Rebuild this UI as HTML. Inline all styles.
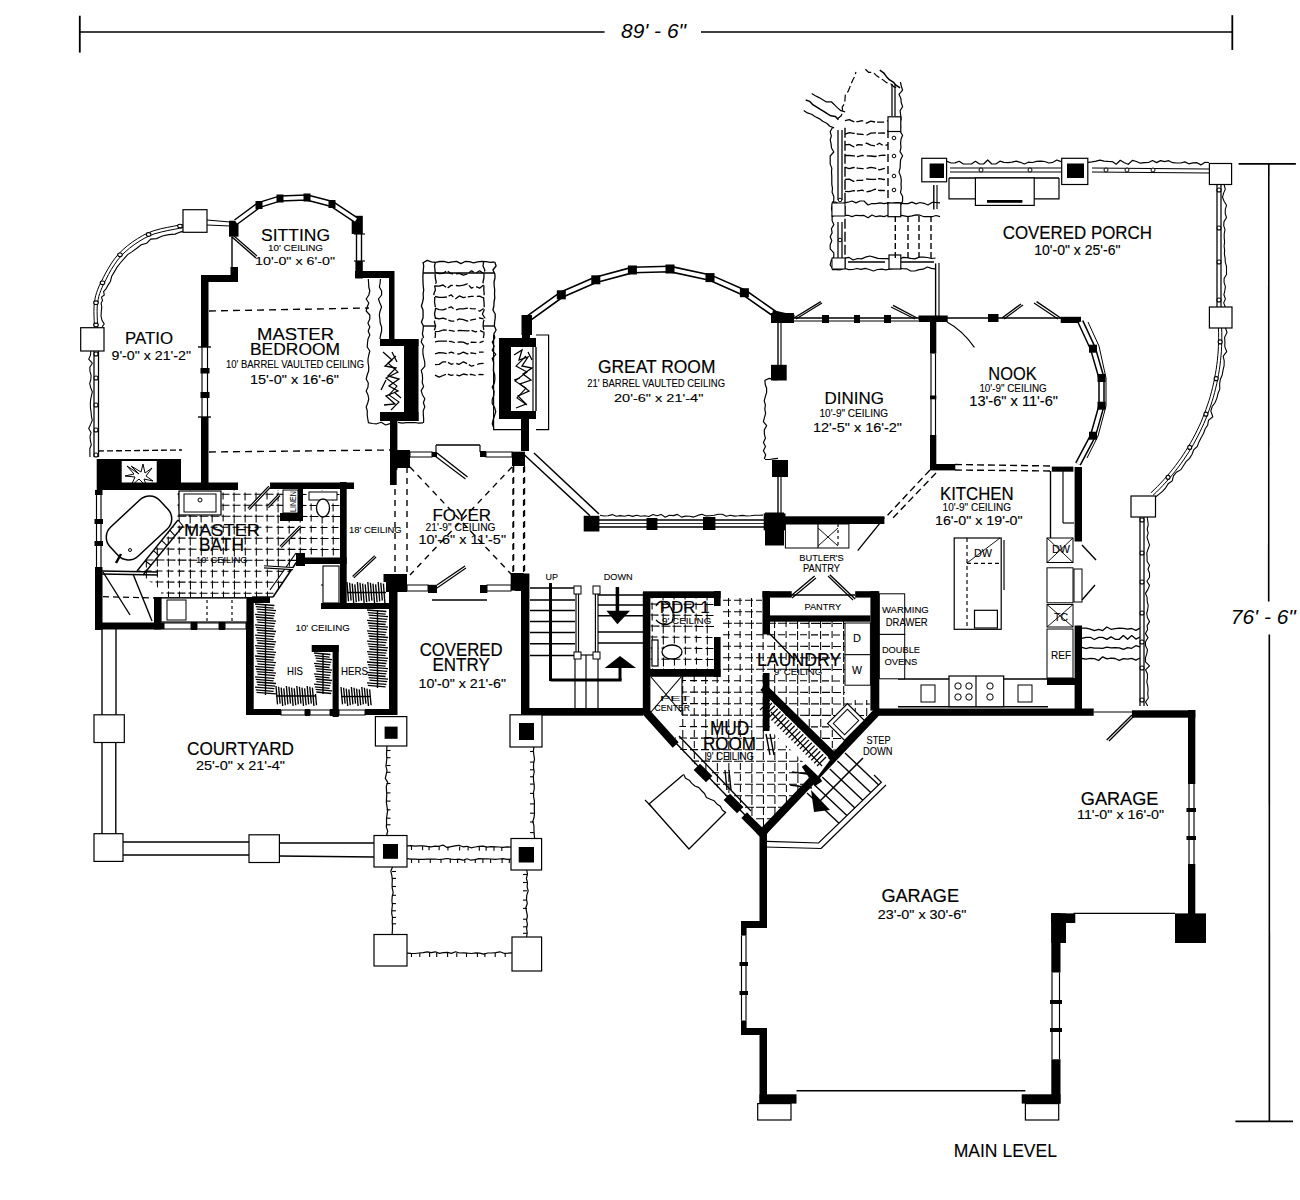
<!DOCTYPE html>
<html><head><meta charset="utf-8"><style>
html,body{margin:0;padding:0;background:#fff;}
svg{display:block;}
text{font-family:"Liberation Sans",sans-serif;fill:#000;}
</style></head><body>
<svg width="1300" height="1200" viewBox="0 0 1300 1200">
<rect width="1300" height="1200" fill="#fff"/>
<line x1="80.0" y1="32.0" x2="604.6" y2="32.0" stroke="#000" stroke-width="1.6" />
<line x1="701.0" y1="32.0" x2="1232.3" y2="32.0" stroke="#000" stroke-width="1.6" />
<line x1="79.8" y1="15.7" x2="79.8" y2="52.6" stroke="#000" stroke-width="1.8" />
<line x1="1232.3" y1="15.2" x2="1232.3" y2="49.9" stroke="#000" stroke-width="1.8" />
<text x="621.0" y="37.7" font-size="19.57" stroke="#000" stroke-width="0.00" textLength="65.0" lengthAdjust="spacingAndGlyphs" font-weight="normal" font-style="italic">89' - 6"</text>
<line x1="1238.6" y1="163.8" x2="1295.9" y2="163.8" stroke="#000" stroke-width="1.7" />
<line x1="1268.8" y1="163.8" x2="1268.7" y2="601.5" stroke="#000" stroke-width="1.6" />
<line x1="1269.3" y1="634.6" x2="1269.4" y2="1121.3" stroke="#000" stroke-width="1.6" />
<line x1="1235.4" y1="1121.3" x2="1293.0" y2="1121.3" stroke="#000" stroke-width="1.8" />
<text x="1230.8" y="623.8" font-size="20.29" stroke="#000" stroke-width="0.00" textLength="65.0" lengthAdjust="spacingAndGlyphs" font-weight="normal" font-style="italic">76' - 6"</text>
<text x="953.7" y="1156.5" font-size="18.86" stroke="#000" stroke-width="0.10" textLength="103.3" lengthAdjust="spacingAndGlyphs" font-weight="normal" font-style="normal">MAIN LEVEL</text>
<clipPath id="tc1"><polygon points="176.0,490.0 340.0,490.0 340.0,557.0 300.0,557.0 273.0,597.0 161.0,597.0 161.0,590.0 137.0,572.0 177.0,522.0"/></clipPath>
<g clip-path="url(#tc1)" stroke="#000" stroke-width="1.05">
<line x1="125" y1="494.0" x2="342" y2="494.5" stroke-dasharray="8,3" stroke-dashoffset="2.5"/>
<line x1="125" y1="505.0" x2="342" y2="505.5" stroke-dasharray="8,3" stroke-dashoffset="2.5"/>
<line x1="125" y1="516.0" x2="342" y2="516.5" stroke-dasharray="9,2" stroke-dashoffset="2.5"/>
<line x1="125" y1="527.0" x2="342" y2="527.5" stroke-dasharray="7,4" stroke-dashoffset="2.5"/>
<line x1="125" y1="538.0" x2="342" y2="538.5" stroke-dasharray="8,3" stroke-dashoffset="2.5"/>
<line x1="125" y1="549.0" x2="342" y2="549.5" stroke-dasharray="8,3" stroke-dashoffset="2.5"/>
<line x1="125" y1="560.0" x2="342" y2="560.5" stroke-dasharray="9,2" stroke-dashoffset="2.5"/>
<line x1="125" y1="571.0" x2="342" y2="571.5" stroke-dasharray="7,4" stroke-dashoffset="2.5"/>
<line x1="125" y1="582.0" x2="342" y2="582.5" stroke-dasharray="8,3" stroke-dashoffset="2.5"/>
<line x1="125" y1="593.0" x2="342" y2="593.5" stroke-dasharray="8,3" stroke-dashoffset="2.5"/>
<line x1="135.0" y1="483" x2="135.5" y2="600" stroke-dasharray="7,4" stroke-dashoffset="1.5"/>
<line x1="146.0" y1="483" x2="146.5" y2="600" stroke-dasharray="9,2" stroke-dashoffset="1.5"/>
<line x1="157.0" y1="483" x2="157.5" y2="600" stroke-dasharray="8,3" stroke-dashoffset="1.5"/>
<line x1="168.0" y1="483" x2="168.5" y2="600" stroke-dasharray="8,3" stroke-dashoffset="1.5"/>
<line x1="179.0" y1="483" x2="179.5" y2="600" stroke-dasharray="7,4" stroke-dashoffset="1.5"/>
<line x1="190.0" y1="483" x2="190.5" y2="600" stroke-dasharray="9,2" stroke-dashoffset="1.5"/>
<line x1="201.0" y1="483" x2="201.5" y2="600" stroke-dasharray="8,3" stroke-dashoffset="1.5"/>
<line x1="212.0" y1="483" x2="212.5" y2="600" stroke-dasharray="8,3" stroke-dashoffset="1.5"/>
<line x1="223.0" y1="483" x2="223.5" y2="600" stroke-dasharray="7,4" stroke-dashoffset="1.5"/>
<line x1="234.0" y1="483" x2="234.5" y2="600" stroke-dasharray="9,2" stroke-dashoffset="1.5"/>
<line x1="245.0" y1="483" x2="245.5" y2="600" stroke-dasharray="8,3" stroke-dashoffset="1.5"/>
<line x1="256.0" y1="483" x2="256.5" y2="600" stroke-dasharray="8,3" stroke-dashoffset="1.5"/>
<line x1="267.0" y1="483" x2="267.5" y2="600" stroke-dasharray="7,4" stroke-dashoffset="1.5"/>
<line x1="278.0" y1="483" x2="278.5" y2="600" stroke-dasharray="9,2" stroke-dashoffset="1.5"/>
<line x1="289.0" y1="483" x2="289.5" y2="600" stroke-dasharray="8,3" stroke-dashoffset="1.5"/>
<line x1="300.0" y1="483" x2="300.5" y2="600" stroke-dasharray="8,3" stroke-dashoffset="1.5"/>
<line x1="311.0" y1="483" x2="311.5" y2="600" stroke-dasharray="7,4" stroke-dashoffset="1.5"/>
<line x1="322.0" y1="483" x2="322.5" y2="600" stroke-dasharray="9,2" stroke-dashoffset="1.5"/>
<line x1="333.0" y1="483" x2="333.5" y2="600" stroke-dasharray="8,3" stroke-dashoffset="1.5"/>
</g>
<clipPath id="tc2"><polygon points="650.0,598.0 714.0,598.0 714.0,669.0 650.0,669.0"/></clipPath>
<g clip-path="url(#tc2)" stroke="#000" stroke-width="1.05">
<line x1="643" y1="604.0" x2="716" y2="604.5" stroke-dasharray="8,3" stroke-dashoffset="3.5"/>
<line x1="643" y1="615.0" x2="716" y2="615.5" stroke-dasharray="8,3" stroke-dashoffset="3.5"/>
<line x1="643" y1="626.0" x2="716" y2="626.5" stroke-dasharray="9,2" stroke-dashoffset="3.5"/>
<line x1="643" y1="637.0" x2="716" y2="637.5" stroke-dasharray="7,4" stroke-dashoffset="3.5"/>
<line x1="643" y1="648.0" x2="716" y2="648.5" stroke-dasharray="8,3" stroke-dashoffset="3.5"/>
<line x1="643" y1="659.0" x2="716" y2="659.5" stroke-dasharray="8,3" stroke-dashoffset="3.5"/>
<line x1="643" y1="670.0" x2="716" y2="670.5" stroke-dasharray="9,2" stroke-dashoffset="3.5"/>
<line x1="652.0" y1="591" x2="652.5" y2="672" stroke-dasharray="7,4" stroke-dashoffset="10.5"/>
<line x1="663.0" y1="591" x2="663.5" y2="672" stroke-dasharray="9,2" stroke-dashoffset="10.5"/>
<line x1="674.0" y1="591" x2="674.5" y2="672" stroke-dasharray="8,3" stroke-dashoffset="10.5"/>
<line x1="685.0" y1="591" x2="685.5" y2="672" stroke-dasharray="8,3" stroke-dashoffset="10.5"/>
<line x1="696.0" y1="591" x2="696.5" y2="672" stroke-dasharray="7,4" stroke-dashoffset="10.5"/>
<line x1="707.0" y1="591" x2="707.5" y2="672" stroke-dasharray="9,2" stroke-dashoffset="10.5"/>
</g>
<clipPath id="tc3"><polygon points="650.0,676.0 721.0,676.0 721.0,598.0 762.0,598.0 762.0,634.0 770.0,634.0 770.0,621.0 845.0,621.0 845.0,700.0 870.0,700.0 870.0,712.0 762.0,833.0 673.0,742.0 682.0,720.0 682.0,676.0"/></clipPath>
<g clip-path="url(#tc3)" stroke="#000" stroke-width="1.05">
<line x1="640" y1="600.0" x2="880" y2="600.5" stroke-dasharray="8,3" stroke-dashoffset="5.0"/>
<line x1="640" y1="611.5" x2="880" y2="612.0" stroke-dasharray="8,3" stroke-dashoffset="5.0"/>
<line x1="640" y1="623.0" x2="880" y2="623.5" stroke-dasharray="9,2" stroke-dashoffset="5.0"/>
<line x1="640" y1="634.5" x2="880" y2="635.0" stroke-dasharray="7,4" stroke-dashoffset="5.0"/>
<line x1="640" y1="646.0" x2="880" y2="646.5" stroke-dasharray="8,3" stroke-dashoffset="5.0"/>
<line x1="640" y1="657.5" x2="880" y2="658.0" stroke-dasharray="8,3" stroke-dashoffset="5.0"/>
<line x1="640" y1="669.0" x2="880" y2="669.5" stroke-dasharray="9,2" stroke-dashoffset="5.0"/>
<line x1="640" y1="680.5" x2="880" y2="681.0" stroke-dasharray="7,4" stroke-dashoffset="5.0"/>
<line x1="640" y1="692.0" x2="880" y2="692.5" stroke-dasharray="8,3" stroke-dashoffset="5.0"/>
<line x1="640" y1="703.5" x2="880" y2="704.0" stroke-dasharray="8,3" stroke-dashoffset="5.0"/>
<line x1="640" y1="715.0" x2="880" y2="715.5" stroke-dasharray="9,2" stroke-dashoffset="5.0"/>
<line x1="640" y1="726.5" x2="880" y2="727.0" stroke-dasharray="7,4" stroke-dashoffset="5.0"/>
<line x1="640" y1="738.0" x2="880" y2="738.5" stroke-dasharray="8,3" stroke-dashoffset="5.0"/>
<line x1="640" y1="749.5" x2="880" y2="750.0" stroke-dasharray="8,3" stroke-dashoffset="5.0"/>
<line x1="640" y1="761.0" x2="880" y2="761.5" stroke-dasharray="9,2" stroke-dashoffset="5.0"/>
<line x1="640" y1="772.5" x2="880" y2="773.0" stroke-dasharray="7,4" stroke-dashoffset="5.0"/>
<line x1="640" y1="784.0" x2="880" y2="784.5" stroke-dasharray="8,3" stroke-dashoffset="5.0"/>
<line x1="640" y1="795.5" x2="880" y2="796.0" stroke-dasharray="8,3" stroke-dashoffset="5.0"/>
<line x1="640" y1="807.0" x2="880" y2="807.5" stroke-dasharray="9,2" stroke-dashoffset="5.0"/>
<line x1="640" y1="818.5" x2="880" y2="819.0" stroke-dasharray="7,4" stroke-dashoffset="5.0"/>
<line x1="640" y1="830.0" x2="880" y2="830.5" stroke-dasharray="8,3" stroke-dashoffset="5.0"/>
<line x1="648.0" y1="591" x2="648.5" y2="840" stroke-dasharray="7,4" stroke-dashoffset="4.0"/>
<line x1="659.5" y1="591" x2="660.0" y2="840" stroke-dasharray="9,2" stroke-dashoffset="4.0"/>
<line x1="671.0" y1="591" x2="671.5" y2="840" stroke-dasharray="8,3" stroke-dashoffset="4.0"/>
<line x1="682.5" y1="591" x2="683.0" y2="840" stroke-dasharray="8,3" stroke-dashoffset="4.0"/>
<line x1="694.0" y1="591" x2="694.5" y2="840" stroke-dasharray="7,4" stroke-dashoffset="4.0"/>
<line x1="705.5" y1="591" x2="706.0" y2="840" stroke-dasharray="9,2" stroke-dashoffset="4.0"/>
<line x1="717.0" y1="591" x2="717.5" y2="840" stroke-dasharray="8,3" stroke-dashoffset="4.0"/>
<line x1="728.5" y1="591" x2="729.0" y2="840" stroke-dasharray="8,3" stroke-dashoffset="4.0"/>
<line x1="740.0" y1="591" x2="740.5" y2="840" stroke-dasharray="7,4" stroke-dashoffset="4.0"/>
<line x1="751.5" y1="591" x2="752.0" y2="840" stroke-dasharray="9,2" stroke-dashoffset="4.0"/>
<line x1="763.0" y1="591" x2="763.5" y2="840" stroke-dasharray="8,3" stroke-dashoffset="4.0"/>
<line x1="774.5" y1="591" x2="775.0" y2="840" stroke-dasharray="8,3" stroke-dashoffset="4.0"/>
<line x1="786.0" y1="591" x2="786.5" y2="840" stroke-dasharray="7,4" stroke-dashoffset="4.0"/>
<line x1="797.5" y1="591" x2="798.0" y2="840" stroke-dasharray="9,2" stroke-dashoffset="4.0"/>
<line x1="809.0" y1="591" x2="809.5" y2="840" stroke-dasharray="8,3" stroke-dashoffset="4.0"/>
<line x1="820.5" y1="591" x2="821.0" y2="840" stroke-dasharray="8,3" stroke-dashoffset="4.0"/>
<line x1="832.0" y1="591" x2="832.5" y2="840" stroke-dasharray="7,4" stroke-dashoffset="4.0"/>
<line x1="843.5" y1="591" x2="844.0" y2="840" stroke-dasharray="9,2" stroke-dashoffset="4.0"/>
<line x1="855.0" y1="591" x2="855.5" y2="840" stroke-dasharray="8,3" stroke-dashoffset="4.0"/>
<line x1="866.5" y1="591" x2="867.0" y2="840" stroke-dasharray="8,3" stroke-dashoffset="4.0"/>
<line x1="878.0" y1="591" x2="878.5" y2="840" stroke-dasharray="7,4" stroke-dashoffset="4.0"/>
</g>
<rect x="201.0" y="275.0" width="7.5" height="215.0" fill="#000"/>
<rect x="200.5" y="347.0" width="8.5" height="70.0" fill="#fff"/>
<line x1="202.0" y1="347.0" x2="202.0" y2="417.0" stroke="#000" stroke-width="1.15" />
<line x1="207.5" y1="347.0" x2="207.5" y2="417.0" stroke="#000" stroke-width="1.15" />
<line x1="198.0" y1="347.0" x2="211.0" y2="347.0" stroke="#000" stroke-width="1.38" />
<line x1="198.0" y1="417.0" x2="211.0" y2="417.0" stroke="#000" stroke-width="1.38" />
<rect x="200.5" y="368.0" width="9.0" height="5.5" fill="#000"/>
<rect x="200.5" y="392.0" width="9.0" height="6.0" fill="#000"/>
<rect x="201.0" y="275.0" width="36.0" height="7.0" fill="#000"/>
<rect x="230.5" y="267.0" width="7.5" height="15.0" fill="#000"/>
<rect x="229.0" y="220.7" width="9.5" height="16.0" fill="#000"/>
<line x1="232.0" y1="237.0" x2="232.0" y2="268.0" stroke="#000" stroke-width="1.38" />
<line x1="232.0" y1="237.0" x2="256.0" y2="258.0" stroke="#000" stroke-width="1.38" />
<line x1="234.0" y1="236.0" x2="257.0" y2="256.0" stroke="#000" stroke-width="1.15" />
<rect x="351.7" y="215.8" width="11.1" height="18.2" fill="#000"/>
<rect x="355.4" y="234.0" width="7.4" height="44.5" fill="#000"/>
<rect x="354.5" y="234.0" width="9.5" height="27.0" fill="#fff"/>
<line x1="356.5" y1="234.0" x2="356.5" y2="261.0" stroke="#000" stroke-width="1.38" />
<line x1="361.5" y1="234.0" x2="361.5" y2="261.0" stroke="#000" stroke-width="1.38" />
<line x1="354.0" y1="234.0" x2="365.0" y2="234.0" stroke="#000" stroke-width="1.15" />
<line x1="354.0" y1="261.0" x2="365.0" y2="261.0" stroke="#000" stroke-width="1.15" />
<rect x="355.0" y="271.0" width="38.0" height="7.0" fill="#000"/>
<rect x="389.0" y="271.0" width="5.5" height="69.0" fill="#000"/>
<rect x="380.0" y="339.0" width="38.5" height="7.0" fill="#000"/>
<rect x="404.0" y="339.0" width="14.5" height="82.0" fill="#000"/>
<rect x="380.0" y="412.0" width="38.5" height="9.0" fill="#000"/>
<rect x="390.0" y="421.0" width="7.4" height="49.0" fill="#000"/>
<polyline points="368.3,279.0 368.6,283.0 368.8,287.0 369.8,291.0 368.8,295.0 366.2,299.0 368.8,303.0 367.2,307.0 366.2,311.0 369.8,315.0 369.8,319.0 367.9,323.0 369.8,327.0 368.2,331.0 369.8,335.0 368.0,339.0 367.5,343.0 367.2,347.0 369.8,351.0 368.8,355.0 368.0,359.0 368.1,363.0 368.8,367.0 368.6,371.0 367.2,375.0 366.2,379.0 368.3,383.0 368.0,387.0 366.2,391.0 368.0,395.0 368.8,399.0 367.7,403.0 366.2,407.0 367.3,411.0 367.2,415.0 367.8,419.0 368.5,423.0" fill="none" stroke="#000" stroke-width="1.2" stroke-linejoin="round"/>
<polyline points="368.0,422.6 372.4,423.5 376.8,423.8 381.2,422.3 385.6,425.0 390.0,423.7" fill="none" stroke="#000" stroke-width="1.2" stroke-linejoin="round"/>
<polyline points="380.4,279.0 380.1,283.0 379.4,287.0 381.6,291.0 381.6,295.0 378.4,299.0 379.9,303.0 381.6,307.0 380.1,311.0 379.3,315.0 379.9,319.0 380.2,323.0 381.6,327.0 381.6,331.0 380.6,335.0 379.9,339.0" fill="none" stroke="#000" stroke-width="1.2" stroke-linejoin="round"/>
<line x1="209.0" y1="311.0" x2="369.0" y2="308.0" stroke="#000" stroke-width="1.38" stroke-dasharray="7,5"/>
<line x1="209.0" y1="452.0" x2="390.0" y2="450.0" stroke="#000" stroke-width="1.38" stroke-dasharray="7,5"/>
<polyline points="236.0,222.0 259.0,205.0 280.0,198.5 307.0,197.5 332.0,204.0 356.0,220.0" fill="none" stroke="#000" stroke-width="6.5" stroke-linejoin="round"/>
<polyline points="236.0,222.0 259.0,205.0 280.0,198.5 307.0,197.5 332.0,204.0 356.0,220.0" fill="none" stroke="#fff" stroke-width="3.5" stroke-linejoin="round"/>
<rect x="255.5" y="201.0" width="7" height="8" fill="#000"/>
<rect x="276.5" y="194.5" width="7" height="8" fill="#000"/>
<rect x="303.5" y="193.5" width="7" height="8" fill="#000"/>
<rect x="328.5" y="200.0" width="7" height="8" fill="#000"/>
<polyline points="183.3,227.6 179.5,228.3 174.2,229.3 167.9,230.5 161.3,232.0 154.9,233.7 149.2,235.9 144.1,238.4 139.1,241.4 134.2,244.7 129.5,248.2 125.1,252.0 121.2,255.9 117.6,260.1 114.3,264.8 111.2,269.6 108.5,274.5 106.1,279.2 103.9,283.5 102.2,287.2 100.8,290.5 99.7,293.5 98.8,296.4 98.2,299.5 97.6,302.9 97.2,306.9 97.1,311.4 97.2,316.1 97.4,320.5 97.5,324.2 97.6,327.0" fill="none" stroke="#000" stroke-width="1" stroke-linejoin="miter" />
<polyline points="182.7,224.4 178.9,225.2 173.6,226.2 167.3,227.4 160.5,228.8 153.9,230.7 148.0,232.9 142.6,235.6 137.4,238.7 132.3,242.1 127.5,245.7 123.0,249.6 118.8,253.7 115.1,258.1 111.6,263.0 108.5,268.0 105.7,273.0 103.2,277.8 101.1,282.1 99.2,285.9 97.8,289.3 96.6,292.5 95.7,295.6 95.0,298.9 94.4,302.5 94.0,306.7 93.9,311.4 94.0,316.1 94.2,320.6 94.3,324.4 94.4,327.0" fill="none" stroke="#000" stroke-width="1" stroke-linejoin="miter" />
<polyline points="184.0,231.1 180.2,232.1 175.1,234.1 168.7,234.6 162.3,236.0 156.5,238.6 150.7,239.1 146.7,243.2 141.2,244.7 136.8,248.3 132.2,251.6 127.6,254.6 124.1,258.7 120.7,262.5 117.3,266.8 114.5,271.6 111.7,276.3 110.4,281.5 107.9,285.4 106.0,288.9 103.6,291.6 104.3,295.0 101.5,297.1 102.5,300.4 101.1,303.3 101.8,307.1 101.3,311.4 101.0,316.0 102.0,320.3 104.2,324.0 102.1,326.8" fill="none" stroke="#000" stroke-width="1.1" stroke-linejoin="miter" />
<ellipse cx="180" cy="226" rx="2.3" ry="1.8" fill="#fff" stroke="#000" stroke-width="1.1"/>
<ellipse cx="148.6" cy="234.4" rx="2.3" ry="1.8" fill="#fff" stroke="#000" stroke-width="1.1"/>
<ellipse cx="120" cy="254.8" rx="2.3" ry="1.8" fill="#fff" stroke="#000" stroke-width="1.1"/>
<ellipse cx="102.5" cy="282.8" rx="2.3" ry="1.8" fill="#fff" stroke="#000" stroke-width="1.1"/>
<ellipse cx="96" cy="302.7" rx="2.3" ry="1.8" fill="#fff" stroke="#000" stroke-width="1.1"/>
<ellipse cx="96" cy="324.9" rx="2.3" ry="1.8" fill="#fff" stroke="#000" stroke-width="1.1"/>
<rect x="183.0" y="209.7" width="24.0" height="22.6" fill="#fff" stroke="#000" stroke-width="1.2"/>
<line x1="207.0" y1="220.0" x2="230.0" y2="222.0" stroke="#000" stroke-width="1.15" />
<line x1="207.0" y1="225.0" x2="230.0" y2="226.0" stroke="#000" stroke-width="1.15" />
<rect x="80.7" y="327.7" width="23.3" height="23.3" fill="#fff" stroke="#000" stroke-width="1.2"/>
<line x1="94.0" y1="351.0" x2="94.0" y2="457.0" stroke="#000" stroke-width="1.265" />
<line x1="98.5" y1="351.0" x2="98.5" y2="457.0" stroke="#000" stroke-width="1.265" />
<polyline points="90.8,351.0 90.5,355.1 88.7,359.2 92.3,363.2 89.8,367.3 90.0,371.4 91.1,375.5 90.8,379.5 89.7,383.6 90.7,387.7 92.3,391.8 91.4,395.8 90.6,399.9 90.3,404.0 90.5,408.1 91.1,412.2 91.4,416.2 92.3,420.3 90.6,424.4 88.7,428.5 91.0,432.5 90.0,436.6 90.4,440.7 91.3,444.8 89.8,448.8 89.9,452.9 89.9,457.0" fill="none" stroke="#000" stroke-width="1.1" stroke-linejoin="round"/>
<ellipse cx="96" cy="354" rx="2" ry="2" fill="#fff" stroke="#000" stroke-width="1.1"/>
<ellipse cx="96" cy="378" rx="2" ry="2" fill="#fff" stroke="#000" stroke-width="1.1"/>
<ellipse cx="96" cy="405" rx="2" ry="2" fill="#fff" stroke="#000" stroke-width="1.1"/>
<ellipse cx="96" cy="430" rx="2" ry="2" fill="#fff" stroke="#000" stroke-width="1.1"/>
<ellipse cx="96" cy="455" rx="2" ry="2" fill="#fff" stroke="#000" stroke-width="1.1"/>
<line x1="98.0" y1="451.0" x2="182.0" y2="450.0" stroke="#000" stroke-width="1.38" stroke-dasharray="6,3"/>
<rect x="96.7" y="459.0" width="84.3" height="31.0" fill="#000"/>
<rect x="121.7" y="461.0" width="35.0" height="27.0" fill="#fff"/>
<path d="M127,466 L139,474 L131,466 L141,472 L143,464 L145,473 L152,468 L146,476 L153,481 L144,479 L147,487 L139,479 L131,486 L135,477 L125,476 L134,474 Z" fill="none" stroke="#000" stroke-width="1"/>
<rect x="97.0" y="482.5" width="141.0" height="7.5" fill="#000"/>
<rect x="270.0" y="482.5" width="84.0" height="6.5" fill="#000"/>
<rect x="95.0" y="490.0" width="7.5" height="140.0" fill="#000"/>
<rect x="94.5" y="495.0" width="8.5" height="72.0" fill="#fff"/>
<line x1="96.5" y1="495.0" x2="96.5" y2="567.0" stroke="#000" stroke-width="1.15" />
<line x1="101.0" y1="495.0" x2="101.0" y2="567.0" stroke="#000" stroke-width="1.15" />
<rect x="94.5" y="519.0" width="8.5" height="5.0" fill="#000"/>
<rect x="94.5" y="541.0" width="8.5" height="5.0" fill="#000"/>
<rect x="95.0" y="622.5" width="69.0" height="7.0" fill="#000"/>
<rect x="154.0" y="597.0" width="7.0" height="32.5" fill="#000"/>
<line x1="161.0" y1="598.0" x2="247.0" y2="598.0" stroke="#000" stroke-width="1.38" />
<rect x="164.0" y="623.0" width="27.0" height="6.0" fill="#fff" stroke="#000" stroke-width="1"/>
<rect x="191.0" y="622.0" width="6.0" height="8.0" fill="#000"/>
<rect x="197.0" y="623.0" width="22.0" height="6.0" fill="#fff" stroke="#000" stroke-width="1"/>
<rect x="219.0" y="622.0" width="6.0" height="8.0" fill="#000"/>
<rect x="225.0" y="623.0" width="21.0" height="6.0" fill="#fff" stroke="#000" stroke-width="1"/>
<rect x="298.0" y="489.0" width="5.0" height="32.0" fill="#000"/>
<rect x="280.0" y="513.0" width="23.0" height="8.0" fill="#000"/>
<rect x="340.0" y="482.0" width="6.7" height="123.0" fill="#000"/>
<rect x="297.0" y="557.5" width="49.7" height="6.5" fill="#000"/>
<rect x="296.0" y="553.0" width="9.0" height="13.0" fill="#000"/>
<rect x="321.0" y="603.0" width="68.0" height="6.0" fill="#000"/>
<rect x="246.0" y="597.0" width="7.7" height="118.0" fill="#000"/>
<rect x="246.0" y="709.0" width="35.0" height="6.0" fill="#000"/>
<rect x="281.0" y="710.0" width="24.0" height="5.0" fill="#fff" stroke="#000" stroke-width="1"/>
<rect x="305.0" y="709.0" width="5.0" height="7.0" fill="#000"/>
<rect x="310.0" y="710.0" width="20.0" height="5.0" fill="#fff" stroke="#000" stroke-width="1"/>
<rect x="330.0" y="709.0" width="9.0" height="7.0" fill="#000"/>
<rect x="339.0" y="710.0" width="26.0" height="5.0" fill="#fff" stroke="#000" stroke-width="1"/>
<rect x="365.0" y="709.0" width="31.5" height="6.0" fill="#000"/>
<rect x="389.0" y="575.0" width="7.5" height="140.0" fill="#000"/>
<rect x="332.6" y="645.0" width="6.1" height="72.0" fill="#000"/>
<rect x="311.7" y="645.0" width="27.0" height="7.0" fill="#000"/>
<rect x="246.0" y="597.0" width="24.0" height="6.0" fill="#000"/>
<rect x="390.0" y="440.0" width="6.7" height="45.0" fill="#000"/>
<rect x="390.0" y="450.0" width="20.0" height="18.0" fill="#000"/>
<rect x="512.0" y="451.7" width="13.0" height="14.3" fill="#000"/>
<rect x="383.5" y="574.0" width="23.5" height="18.0" fill="#000"/>
<rect x="510.7" y="573.0" width="12.9" height="17.6" fill="#000"/>
<rect x="390.5" y="591.0" width="7.0" height="124.0" fill="#000"/>
<rect x="521.0" y="590.0" width="8.0" height="125.0" fill="#000"/>
<rect x="432.0" y="452.0" width="5.0" height="5.0" fill="#000"/>
<rect x="480.0" y="451.0" width="6.0" height="6.0" fill="#000"/>
<rect x="410.0" y="452.0" width="22.0" height="5.0" fill="#fff" stroke="#000" stroke-width="1"/>
<rect x="486.0" y="452.0" width="26.0" height="5.0" fill="#fff" stroke="#000" stroke-width="1"/>
<line x1="436.0" y1="445.0" x2="480.0" y2="445.0" stroke="#000" stroke-width="1.38" />
<line x1="436.0" y1="445.0" x2="436.0" y2="452.0" stroke="#000" stroke-width="1.15" />
<line x1="480.0" y1="445.0" x2="480.0" y2="452.0" stroke="#000" stroke-width="1.15" />
<line x1="437.0" y1="453.0" x2="467.5" y2="477.0" stroke="#000" stroke-width="1.38" />
<line x1="435.0" y1="456.0" x2="465.5" y2="479.0" stroke="#000" stroke-width="1.15" />
<rect x="428.0" y="584.8" width="9.0" height="8.2" fill="#000"/>
<rect x="480.0" y="585.0" width="7.4" height="8.0" fill="#000"/>
<rect x="407.0" y="585.0" width="21.0" height="6.0" fill="#fff" stroke="#000" stroke-width="1"/>
<rect x="487.0" y="585.0" width="24.0" height="6.0" fill="#fff" stroke="#000" stroke-width="1"/>
<line x1="437.0" y1="585.0" x2="465.0" y2="566.0" stroke="#000" stroke-width="1.38" />
<line x1="437.0" y1="588.0" x2="466.0" y2="568.0" stroke="#000" stroke-width="1.15" />
<line x1="432.0" y1="600.0" x2="487.0" y2="600.0" stroke="#000" stroke-width="1.38" />
<line x1="410.0" y1="467.0" x2="512.0" y2="575.0" stroke="#000" stroke-width="1.38" stroke-dasharray="6,5"/>
<line x1="512.0" y1="467.0" x2="410.0" y2="575.0" stroke="#000" stroke-width="1.38" stroke-dasharray="6,5"/>
<line x1="395.0" y1="467.0" x2="395.0" y2="575.0" stroke="#000" stroke-width="1.38" stroke-dasharray="6,5"/>
<line x1="407.0" y1="467.0" x2="407.0" y2="575.0" stroke="#000" stroke-width="1.38" stroke-dasharray="6,5"/>
<line x1="513.0" y1="467.0" x2="513.0" y2="575.0" stroke="#000" stroke-width="1.38" stroke-dasharray="6,5"/>
<line x1="523.6" y1="467.0" x2="523.6" y2="575.0" stroke="#000" stroke-width="1.38" stroke-dasharray="6,5"/>
<rect x="499.0" y="338.0" width="37.0" height="9.0" fill="#000"/>
<rect x="499.0" y="338.0" width="12.0" height="81.0" fill="#000"/>
<rect x="499.0" y="411.0" width="37.0" height="8.0" fill="#000"/>
<rect x="522.0" y="316.0" width="8.0" height="22.0" fill="#000"/>
<rect x="521.0" y="419.0" width="8.0" height="32.0" fill="#000"/>
<line x1="536.0" y1="347.0" x2="536.0" y2="411.0" stroke="#000" stroke-width="1.38" />
<polyline points="493.6,335.0 493.6,429.6 521.0,429.6" fill="none" stroke="#000" stroke-width="1.2" stroke-linejoin="miter" />
<polyline points="536.0,335.0 548.6,335.0 548.6,429.6 536.0,429.6" fill="none" stroke="#000" stroke-width="1.2" stroke-linejoin="miter" />
<polyline points="423.6,338.0 422.4,334.0 423.0,330.0 423.4,326.0 421.4,322.0 423.0,318.0 423.1,314.0 423.0,310.0 421.4,306.0 422.6,302.0 423.4,298.0 423.1,294.0 423.7,290.0 423.2,286.0 423.0,282.0 422.9,278.0 423.0,274.0 423.3,270.0 423.7,266.0 423.1,262.0" fill="none" stroke="#000" stroke-width="1.3" stroke-linejoin="round"/>
<polyline points="423.0,262.7 427.2,260.4 431.4,261.8 435.6,262.3 439.8,261.5 444.0,261.4 448.2,262.7 452.4,261.8 456.6,261.4 460.9,263.6 465.1,261.5 469.3,261.6 473.5,262.8 477.7,261.9 481.9,261.3 486.1,261.7 490.3,262.3 494.5,262.0" fill="none" stroke="#000" stroke-width="1.3" stroke-linejoin="round"/>
<polyline points="494.8,262.0 496.1,266.0 492.9,270.0 494.9,274.0 495.0,278.0 494.0,282.0 494.2,286.0 494.7,290.0 494.5,294.0 494.8,298.0 494.0,302.0 493.9,306.0 492.9,310.0 495.2,314.0 495.2,318.0 494.6,322.0 494.4,326.0 496.1,330.0 493.8,334.0 494.9,338.0" fill="none" stroke="#000" stroke-width="1.3" stroke-linejoin="round"/>
<polyline points="435.4,262.0 434.5,266.0 435.0,270.0 435.1,274.0 435.3,278.0 436.2,282.0 434.7,286.0 435.4,290.0 433.8,294.0 434.8,298.0 434.5,302.0 435.2,306.0 435.3,310.0 434.5,314.0 435.4,318.0 434.4,322.0 435.6,326.0 434.5,330.0 435.5,334.0 435.1,338.0" fill="none" stroke="#000" stroke-width="1.3" stroke-linejoin="round" stroke-dasharray="10,2"/>
<polyline points="483.6,262.0 483.0,266.0 484.8,270.0 484.0,274.0 483.9,278.0 483.0,282.0 483.9,286.0 483.8,290.0 484.2,294.0 483.6,298.0 484.0,302.0 484.2,306.0 484.1,310.0 482.4,314.0 484.8,318.0 483.4,322.0 483.1,326.0 483.8,330.0 484.0,334.0 483.4,338.0" fill="none" stroke="#000" stroke-width="1.3" stroke-linejoin="round" stroke-dasharray="10,2"/>
<line x1="423.0" y1="273.0" x2="494.5" y2="273.0" stroke="#000" stroke-width="1.38" />
<line x1="423.0" y1="326.0" x2="435.0" y2="326.0" stroke="#000" stroke-width="1.38" />
<line x1="483.6" y1="326.0" x2="494.5" y2="326.0" stroke="#000" stroke-width="1.38" />
<polyline points="435.0,272.0 439.1,273.7 443.1,273.3 447.1,270.8 451.2,273.7 455.2,273.9 459.3,273.4 463.4,275.2 467.4,274.0 471.5,270.8 475.5,273.3 479.6,270.8 483.6,273.5" fill="none" stroke="#000" stroke-width="1.3" stroke-linejoin="round" stroke-dasharray="12,2,6,3"/>
<polyline points="435.0,286.0 439.1,286.1 443.1,285.0 447.1,288.2 451.2,285.4 455.2,285.4 459.3,285.9 463.4,285.1 467.4,283.8 471.5,288.2 475.5,286.3 479.6,288.2 483.6,285.0" fill="none" stroke="#000" stroke-width="1.3" stroke-linejoin="round" stroke-dasharray="12,2,6,3"/>
<polyline points="435.0,296.5 439.1,297.4 443.1,297.4 447.1,297.0 451.2,294.8 455.2,299.2 459.3,295.9 463.4,297.7 467.4,296.9 471.5,296.4 475.5,296.4 479.6,296.2 483.6,298.0" fill="none" stroke="#000" stroke-width="1.3" stroke-linejoin="round" stroke-dasharray="12,2,6,3"/>
<polyline points="435.0,308.2 439.1,309.7 443.1,309.9 447.1,308.4 451.2,306.8 455.2,310.0 459.3,308.8 463.4,308.8 467.4,308.2 471.5,308.6 475.5,308.8 479.6,311.2 483.6,308.5" fill="none" stroke="#000" stroke-width="1.3" stroke-linejoin="round" stroke-dasharray="12,2,6,3"/>
<polyline points="435.0,318.0 439.1,318.8 443.1,318.1 447.1,319.6 451.2,321.2 455.2,321.2 459.3,318.9 463.4,319.6 467.4,321.2 471.5,319.9 475.5,319.1 479.6,318.0 483.6,318.9" fill="none" stroke="#000" stroke-width="1.3" stroke-linejoin="round" stroke-dasharray="12,2,6,3"/>
<polyline points="435.0,331.6 439.1,331.3 443.1,330.0 447.1,330.2 451.2,330.7 455.2,331.5 459.3,330.5 463.4,330.6 467.4,330.8 471.5,330.3 475.5,331.9 479.6,330.4 483.6,332.1" fill="none" stroke="#000" stroke-width="1.3" stroke-linejoin="round" stroke-dasharray="12,2,6,3"/>
<polyline points="435.0,341.9 439.1,341.2 443.1,341.1 447.1,341.1 451.2,341.5 455.2,342.9 459.3,341.8 463.4,342.1 467.4,344.2 471.5,342.2 475.5,342.4 479.6,342.6 483.6,341.1" fill="none" stroke="#000" stroke-width="1.3" stroke-linejoin="round" stroke-dasharray="12,2,6,3"/>
<polyline points="435.0,353.9 439.1,352.7 443.1,352.9 447.1,353.7 451.2,352.2 455.2,353.6 459.3,354.0 463.4,352.1 467.4,353.9 471.5,352.9 475.5,353.6 479.6,352.2 483.6,352.1" fill="none" stroke="#000" stroke-width="1.3" stroke-linejoin="round" stroke-dasharray="12,2,6,3"/>
<polyline points="435.0,364.7 439.1,364.4 443.1,361.8 447.1,361.8 451.2,364.3 455.2,363.2 459.3,364.3 463.4,361.8 467.4,363.8 471.5,366.2 475.5,365.1 479.6,363.6 483.6,363.4" fill="none" stroke="#000" stroke-width="1.3" stroke-linejoin="round" stroke-dasharray="12,2,6,3"/>
<polyline points="435.0,375.1 439.1,377.2 443.1,375.5 447.1,373.9 451.2,375.4 455.2,374.5 459.3,375.9 463.4,374.0 467.4,374.8 471.5,374.3 475.5,375.5 479.6,374.4 483.6,374.6" fill="none" stroke="#000" stroke-width="1.3" stroke-linejoin="round" stroke-dasharray="12,2,6,3"/>
<polyline points="422.4,338.0 421.2,342.0 423.7,346.1 422.8,350.1 423.0,354.2 423.8,358.2 424.8,362.3 424.8,366.3 421.2,370.4 422.3,374.4 422.6,378.5 422.2,382.5 423.6,386.6 421.2,390.6 422.4,394.7 424.8,398.7 423.4,402.8 424.8,406.8 423.2,410.9 423.3,414.9 423.7,419.0 423.5,423.0" fill="none" stroke="#000" stroke-width="1.2" stroke-linejoin="round"/>
<polyline points="423.0,422.9 418.8,423.1 414.7,422.5 410.5,422.7 406.3,422.7 402.2,423.2 398.0,422.4" fill="none" stroke="#000" stroke-width="1.2" stroke-linejoin="round"/>
<polyline points="494.8,338.0 492.2,342.1 494.2,346.2 492.2,350.3 495.8,354.4 492.2,358.5 493.6,362.5 493.5,366.6 493.3,370.7 494.7,374.8 494.9,378.9 494.4,383.0 492.2,387.1 494.1,391.2 493.8,395.3 492.2,399.4 492.2,403.5 494.6,407.5 495.8,411.6 494.5,415.7 493.1,419.8 492.2,423.9 493.8,428.0" fill="none" stroke="#000" stroke-width="1.2" stroke-linejoin="round"/>
<rect x="522.6" y="573.5" width="6.8" height="141.5" fill="#000"/>
<rect x="515.0" y="573.5" width="8.5" height="17.5" fill="#000"/>
<rect x="522.0" y="708.0" width="121.0" height="7.7" fill="#000"/>
<rect x="642.8" y="592.0" width="7.6" height="123.0" fill="#000"/>
<rect x="643.0" y="591.3" width="77.6" height="6.7" fill="#000"/>
<rect x="714.0" y="591.0" width="6.6" height="15.0" fill="#000"/>
<rect x="714.0" y="637.0" width="6.6" height="39.8" fill="#000"/>
<rect x="643.0" y="669.0" width="77.6" height="7.8" fill="#000"/>
<line x1="530.0" y1="588.0" x2="575.0" y2="588.0" stroke="#000" stroke-width="1.5" />
<line x1="530.0" y1="600.0" x2="575.0" y2="600.0" stroke="#000" stroke-width="1.5" />
<line x1="530.0" y1="610.5" x2="575.0" y2="610.5" stroke="#000" stroke-width="1.5" />
<line x1="530.0" y1="621.5" x2="575.0" y2="621.5" stroke="#000" stroke-width="1.5" />
<line x1="530.0" y1="632.5" x2="575.0" y2="632.5" stroke="#000" stroke-width="1.5" />
<line x1="530.0" y1="643.7" x2="575.0" y2="643.7" stroke="#000" stroke-width="1.5" />
<line x1="530.0" y1="655.5" x2="575.0" y2="655.5" stroke="#000" stroke-width="1.5" />
<line x1="598.0" y1="595.0" x2="643.0" y2="595.0" stroke="#000" stroke-width="1.5" />
<line x1="598.0" y1="605.0" x2="643.0" y2="605.0" stroke="#000" stroke-width="1.5" />
<line x1="598.0" y1="615.7" x2="643.0" y2="615.7" stroke="#000" stroke-width="1.5" />
<line x1="598.0" y1="632.0" x2="643.0" y2="632.0" stroke="#000" stroke-width="1.5" />
<line x1="598.0" y1="643.0" x2="643.0" y2="643.0" stroke="#000" stroke-width="1.5" />
<line x1="550.5" y1="583.0" x2="550.5" y2="681.0" stroke="#000" stroke-width="3" />
<line x1="550.5" y1="680.0" x2="621.6" y2="680.0" stroke="#000" stroke-width="3" />
<line x1="620.0" y1="680.0" x2="620.0" y2="665.0" stroke="#000" stroke-width="3" />
<polygon points="604.7,668.0 620.0,656.0 636.0,668.0" fill="#000"/>
<line x1="617.4" y1="587.0" x2="617.4" y2="613.0" stroke="#000" stroke-width="3.5" />
<polygon points="606.4,610.8 630.0,610.8 617.4,624.3" fill="#000"/>
<line x1="576.0" y1="590.0" x2="576.0" y2="655.0" stroke="#000" stroke-width="1.15" />
<line x1="578.5" y1="590.0" x2="578.5" y2="655.0" stroke="#000" stroke-width="1.15" />
<line x1="595.4" y1="590.0" x2="595.4" y2="655.0" stroke="#000" stroke-width="1.15" />
<line x1="598.0" y1="590.0" x2="598.0" y2="655.0" stroke="#000" stroke-width="1.15" />
<line x1="576.0" y1="655.0" x2="598.0" y2="655.0" stroke="#000" stroke-width="1.15" />
<line x1="575.0" y1="655.0" x2="575.0" y2="708.0" stroke="#000" stroke-width="1.15" />
<line x1="586.0" y1="655.0" x2="586.0" y2="708.0" stroke="#000" stroke-width="1.15" />
<line x1="598.0" y1="655.0" x2="598.0" y2="708.0" stroke="#000" stroke-width="1.15" />
<polyline points="526.8,319.6 561.3,294.8 595.8,279.8 632.4,270.0 670.0,269.0 710.0,277.6 744.4,292.7 776.7,315.3" fill="none" stroke="#000" stroke-width="7" stroke-linejoin="round"/>
<polyline points="526.8,319.6 561.3,294.8 595.8,279.8 632.4,270.0 670.0,269.0 710.0,277.6 744.4,292.7 776.7,315.3" fill="none" stroke="#fff" stroke-width="3.8" stroke-linejoin="round"/>
<rect x="556.8" y="290.3" width="9" height="9" fill="#000" transform="rotate(0 561.3 294.8)"/>
<rect x="591.3" y="275.3" width="9" height="9" fill="#000" transform="rotate(0 595.8 279.8)"/>
<rect x="627.9" y="265.5" width="9" height="9" fill="#000" transform="rotate(0 632.4 270)"/>
<rect x="665.5" y="264.5" width="9" height="9" fill="#000" transform="rotate(0 670 269)"/>
<rect x="705.5" y="273.1" width="9" height="9" fill="#000" transform="rotate(0 710 277.6)"/>
<rect x="739.9" y="288.2" width="9" height="9" fill="#000" transform="rotate(0 744.4 292.7)"/>
<rect x="521.5" y="315.0" width="10.5" height="20.0" fill="#000"/>
<line x1="776.0" y1="315.0" x2="790.0" y2="318.0" stroke="#000" stroke-width="8" stroke-linecap="square"/>
<line x1="778.0" y1="318.0" x2="1081.0" y2="318.0" stroke="#000" stroke-width="1.38" />
<line x1="794.0" y1="321.0" x2="918.0" y2="321.0" stroke="#000" stroke-width="1.15" />
<rect x="771.0" y="313.0" width="23.0" height="10.0" fill="#000"/>
<rect x="918.5" y="315.5" width="29.2" height="6.5" fill="#000"/>
<rect x="988.0" y="314.0" width="10.5" height="8.0" fill="#000"/>
<rect x="1060.7" y="316.8" width="20.3" height="6.2" fill="#000"/>
<rect x="822.0" y="315.0" width="7.0" height="8.0" fill="#000"/>
<rect x="854.0" y="315.0" width="6.0" height="8.0" fill="#000"/>
<rect x="884.0" y="315.0" width="7.0" height="8.0" fill="#000"/>
<line x1="794.0" y1="318.0" x2="820.8" y2="301.6" stroke="#000" stroke-width="1.38" />
<line x1="796.0" y1="319.0" x2="822.0" y2="303.0" stroke="#000" stroke-width="1.15" />
<line x1="917.0" y1="318.0" x2="893.0" y2="305.4" stroke="#000" stroke-width="1.38" />
<line x1="915.0" y1="319.0" x2="891.0" y2="307.0" stroke="#000" stroke-width="1.15" />
<line x1="1002.0" y1="318.0" x2="1021.0" y2="304.0" stroke="#000" stroke-width="1.38" />
<line x1="1004.0" y1="319.0" x2="1023.0" y2="305.0" stroke="#000" stroke-width="1.15" />
<line x1="1060.7" y1="318.0" x2="1036.6" y2="301.6" stroke="#000" stroke-width="1.38" />
<line x1="1058.0" y1="319.0" x2="1034.0" y2="303.0" stroke="#000" stroke-width="1.15" />
<path d="M947,322 Q962,330 974.4,347.3" fill="none" stroke="#000" stroke-width="1.2"/>
<line x1="778.0" y1="323.0" x2="778.0" y2="365.0" stroke="#000" stroke-width="1.38" />
<line x1="781.0" y1="323.0" x2="781.0" y2="365.0" stroke="#000" stroke-width="1.15" />
<rect x="771.0" y="364.8" width="15.7" height="15.7" fill="#000"/>
<polyline points="778.0,379.7 773.7,379.6 769.3,378.4 765.0,380.3" fill="none" stroke="#000" stroke-width="1.2" stroke-linejoin="round"/>
<polyline points="764.9,380.0 765.2,384.2 766.6,388.3 766.6,392.5 765.3,396.6 764.2,400.8 765.4,404.9 764.8,409.1 765.6,413.3 764.5,417.4 763.4,421.6 766.6,425.7 764.3,429.9 764.4,434.1 765.4,438.2 763.4,442.4 765.5,446.5 763.4,450.7 765.7,454.8 764.3,459.0" fill="none" stroke="#000" stroke-width="1.2" stroke-linejoin="round"/>
<polyline points="765.0,459.5 769.3,459.5 773.7,458.8 778.0,458.3" fill="none" stroke="#000" stroke-width="1.2" stroke-linejoin="round"/>
<rect x="772.0" y="460.0" width="16.0" height="17.0" fill="#000"/>
<line x1="778.0" y1="477.0" x2="778.0" y2="513.0" stroke="#000" stroke-width="1.38" />
<line x1="781.0" y1="477.0" x2="781.0" y2="513.0" stroke="#000" stroke-width="1.15" />
<rect x="583.7" y="515.8" width="15.7" height="15.7" fill="#000"/>
<line x1="599.0" y1="520.0" x2="764.0" y2="520.0" stroke="#000" stroke-width="1.38" />
<line x1="599.0" y1="527.0" x2="764.0" y2="527.0" stroke="#000" stroke-width="1.38" />
<line x1="599.0" y1="523.5" x2="764.0" y2="523.5" stroke="#000" stroke-width="0.8049999999999999" />
<polyline points="600.0,515.3 604.1,516.0 608.1,515.8 612.2,514.6 616.3,516.2 620.4,515.6 624.5,516.2 628.5,515.3 632.6,516.4 636.7,515.2 640.8,516.3 644.8,515.7 648.9,516.5 653.0,514.4 657.0,515.7 661.1,514.4 665.2,517.2 669.3,515.2 673.3,515.6 677.4,514.4 681.5,517.1 685.6,516.1 689.7,516.2 693.7,517.1 697.8,515.4 701.9,514.3 706.0,515.9 710.0,515.8 714.1,515.2 718.2,514.2 722.2,514.2 726.3,516.3 730.4,515.2 734.5,516.1 738.6,515.8 742.6,515.4 746.7,516.0 750.8,515.7 754.8,515.2 758.9,515.3 763.0,515.1" fill="none" stroke="#000" stroke-width="1.1" stroke-linejoin="round"/>
<rect x="646.5" y="518.0" width="10.9" height="12.0" fill="#000"/>
<rect x="703.0" y="517.0" width="12.4" height="13.0" fill="#000"/>
<rect x="763.7" y="513.4" width="21.8" height="16.9" fill="#000"/>
<line x1="524.5" y1="455.0" x2="590.0" y2="515.8" stroke="#000" stroke-width="1.4949999999999999" />
<line x1="534.0" y1="453.0" x2="599.0" y2="514.0" stroke="#000" stroke-width="1.4949999999999999" />
<line x1="513.6" y1="466.0" x2="513.6" y2="575.0" stroke="#000" stroke-width="1.38" stroke-dasharray="6,5"/>
<line x1="524.5" y1="466.0" x2="524.5" y2="575.0" stroke="#000" stroke-width="1.38" stroke-dasharray="6,5"/>
<rect x="765.0" y="516.3" width="119.4" height="7.7" fill="#000"/>
<rect x="765.0" y="512.5" width="19.0" height="33.0" fill="#000"/>
<rect x="785.4" y="524.0" width="63.5" height="24.0" fill="#fff" stroke="#000" stroke-width="1"/>
<line x1="818.0" y1="524.0" x2="818.0" y2="548.0" stroke="#000" stroke-width="1.15" />
<line x1="838.0" y1="524.0" x2="838.0" y2="548.0" stroke="#000" stroke-width="1.15" stroke-dasharray="3,3"/>
<line x1="884.4" y1="517.6" x2="857.7" y2="550.6" stroke="#000" stroke-width="1.38" />
<line x1="818.0" y1="528.0" x2="838.0" y2="546.0" stroke="#000" stroke-width="0.9199999999999999" />
<line x1="838.0" y1="528.0" x2="818.0" y2="546.0" stroke="#000" stroke-width="0.9199999999999999" />
<rect x="930.0" y="318.0" width="6.3" height="35.6" fill="#000"/>
<rect x="930.0" y="435.0" width="6.3" height="34.0" fill="#000"/>
<line x1="931.0" y1="353.6" x2="931.0" y2="435.0" stroke="#000" stroke-width="1.15" />
<line x1="935.5" y1="353.6" x2="935.5" y2="435.0" stroke="#000" stroke-width="1.15" />
<rect x="930.0" y="395.5" width="6.3" height="3.8" fill="#000"/>
<rect x="930.0" y="464.0" width="25.3" height="6.4" fill="#000"/>
<line x1="955.0" y1="464.5" x2="1052.0" y2="466.0" stroke="#000" stroke-width="1.38" stroke-dasharray="7,4"/>
<line x1="955.0" y1="470.0" x2="1052.0" y2="471.0" stroke="#000" stroke-width="1.38" stroke-dasharray="7,4"/>
<rect x="1051.8" y="466.6" width="21.6" height="5.1" fill="#000"/>
<line x1="930.0" y1="470.0" x2="885.5" y2="517.4" stroke="#000" stroke-width="1.38" stroke-dasharray="7,4"/>
<line x1="936.0" y1="473.0" x2="891.0" y2="520.0" stroke="#000" stroke-width="1.38" stroke-dasharray="7,4"/>
<polyline points="1080.5,321.7 1093.0,348.7 1101.5,378.0 1101.5,405.7 1093.0,435.7 1078.0,464.0" fill="none" stroke="#000" stroke-width="6.5" stroke-linejoin="round"/>
<polyline points="1080.5,321.7 1093.0,348.7 1101.5,378.0 1101.5,405.7 1093.0,435.7 1078.0,464.0" fill="none" stroke="#fff" stroke-width="3.5" stroke-linejoin="round"/>
<rect x="1089.0" y="344.7" width="8" height="8" fill="#000"/>
<rect x="1097.5" y="374.0" width="8" height="8" fill="#000"/>
<rect x="1097.5" y="401.7" width="8" height="8" fill="#000"/>
<rect x="1089.0" y="431.7" width="8" height="8" fill="#000"/>
<polyline points="1088.0,322.0 1099.0,346.0 1106.0,378.0 1106.0,406.0 1098.0,436.0 1087.0,458.0" fill="none" stroke="#000" stroke-width="1" stroke-linejoin="miter" />
<rect x="1074.6" y="467.0" width="7.4" height="74.5" fill="#000"/>
<rect x="1074.6" y="625.5" width="7.4" height="87.5" fill="#000"/>
<line x1="1050.5" y1="471.0" x2="1050.5" y2="540.0" stroke="#000" stroke-width="1.38" />
<line x1="1063.0" y1="471.0" x2="1063.0" y2="523.0" stroke="#000" stroke-width="1.15" />
<line x1="1063.0" y1="523.0" x2="1074.0" y2="523.0" stroke="#000" stroke-width="1.15" />
<rect x="1047.0" y="538.0" width="26.0" height="24.5" fill="#fff" stroke="#000" stroke-width="1"/>
<line x1="1047.0" y1="538.0" x2="1073.0" y2="562.5" stroke="#000" stroke-width="0.9199999999999999" />
<line x1="1073.0" y1="538.0" x2="1047.0" y2="562.5" stroke="#000" stroke-width="0.9199999999999999" />
<rect x="1047.0" y="567.8" width="26.0" height="35.0" fill="#fff" stroke="#000" stroke-width="1"/>
<rect x="1074.0" y="569.0" width="8.0" height="33.0" fill="#fff" stroke="#000" stroke-width="1"/>
<rect x="1047.0" y="604.5" width="26.0" height="22.5" fill="#fff" stroke="#000" stroke-width="1"/>
<line x1="1047.0" y1="604.5" x2="1073.0" y2="627.0" stroke="#000" stroke-width="0.9199999999999999" />
<line x1="1073.0" y1="604.5" x2="1047.0" y2="627.0" stroke="#000" stroke-width="0.9199999999999999" />
<rect x="1047.0" y="629.0" width="26.0" height="49.0" fill="#fff" stroke="#000" stroke-width="1"/>
<rect x="1047.0" y="678.0" width="35.0" height="7.0" fill="#000"/>
<line x1="1082.0" y1="545.0" x2="1096.0" y2="560.0" stroke="#000" stroke-width="1.38" />
<line x1="1082.0" y1="600.0" x2="1095.0" y2="585.0" stroke="#000" stroke-width="1.38" />
<rect x="954.2" y="538.0" width="47.0" height="91.3" fill="#fff" stroke="#000" stroke-width="1.2"/>
<line x1="967.0" y1="538.0" x2="967.0" y2="629.0" stroke="#000" stroke-width="1.15" stroke-dasharray="4,3"/>
<line x1="967.0" y1="563.3" x2="1000.0" y2="563.3" stroke="#000" stroke-width="1.15" stroke-dasharray="4,3"/>
<line x1="967.0" y1="563.0" x2="1000.0" y2="538.0" stroke="#000" stroke-width="0.9199999999999999" />
<rect x="974.5" y="610.3" width="22.9" height="17.7" fill="#fff" stroke="#000" stroke-width="1.2"/>
<line x1="1004.0" y1="540.0" x2="1004.0" y2="590.0" stroke="#000" stroke-width="1.15" />
<line x1="898.0" y1="679.0" x2="1048.0" y2="679.0" stroke="#000" stroke-width="1.38" />
<line x1="898.0" y1="706.7" x2="1048.0" y2="706.7" stroke="#000" stroke-width="1.38" />
<rect x="949.0" y="676.0" width="54.7" height="30.7" fill="#fff" stroke="#000" stroke-width="1.2"/>
<line x1="976.0" y1="676.0" x2="976.0" y2="706.7" stroke="#000" stroke-width="1.15" />
<circle cx="958.0" cy="686.0" r="3.2" fill="#fff" stroke="#000" stroke-width="1"/>
<circle cx="969.0" cy="686.0" r="3.2" fill="#fff" stroke="#000" stroke-width="1"/>
<circle cx="958.0" cy="697.0" r="3.2" fill="#fff" stroke="#000" stroke-width="1"/>
<circle cx="969.0" cy="697.0" r="3.2" fill="#fff" stroke="#000" stroke-width="1"/>
<circle cx="990.0" cy="686.0" r="3.2" fill="#fff" stroke="#000" stroke-width="1"/>
<circle cx="990.0" cy="697.0" r="3.2" fill="#fff" stroke="#000" stroke-width="1"/>
<rect x="921.0" y="685.0" width="14.0" height="17.0" fill="#fff" stroke="#000" stroke-width="1"/>
<rect x="1018.0" y="685.0" width="14.0" height="17.0" fill="#fff" stroke="#000" stroke-width="1"/>
<rect x="879.3" y="593.8" width="25.4" height="40.6" fill="#fff" stroke="#000" stroke-width="1"/>
<rect x="879.3" y="634.4" width="25.4" height="44.4" fill="#fff" stroke="#000" stroke-width="1"/>
<rect x="762.5" y="591.2" width="29.2" height="6.4" fill="#000"/>
<rect x="855.2" y="591.2" width="22.8" height="6.4" fill="#000"/>
<line x1="791.0" y1="595.0" x2="855.0" y2="595.0" stroke="#000" stroke-width="1.38" />
<rect x="762.5" y="591.2" width="7.5" height="43.2" fill="#000"/>
<rect x="870.4" y="591.2" width="8.9" height="119.4" fill="#000"/>
<rect x="770.0" y="615.4" width="100.4" height="6.3" fill="#000"/>
<line x1="790.5" y1="596.3" x2="814.6" y2="576.0" stroke="#000" stroke-width="1.38" />
<line x1="792.0" y1="598.0" x2="816.0" y2="578.0" stroke="#000" stroke-width="1.15" />
<line x1="855.2" y1="598.9" x2="829.8" y2="574.7" stroke="#000" stroke-width="1.38" />
<line x1="853.0" y1="600.0" x2="828.0" y2="576.0" stroke="#000" stroke-width="1.15" />
<rect x="845.0" y="623.0" width="25.4" height="31.7" fill="#fff" stroke="#000" stroke-width="1"/>
<rect x="845.0" y="654.7" width="25.4" height="30.5" fill="#fff" stroke="#000" stroke-width="1"/>
<line x1="770.0" y1="634.0" x2="795.0" y2="660.0" stroke="#000" stroke-width="1.38" />
<rect x="877.7" y="708.5" width="216.0" height="7.3" fill="#000"/>
<rect x="1132.0" y="710.3" width="63.3" height="7.4" fill="#000"/>
<line x1="1093.7" y1="712.0" x2="1132.0" y2="712.0" stroke="#000" stroke-width="1.15" />
<line x1="1132.0" y1="715.0" x2="1106.7" y2="739.9" stroke="#000" stroke-width="1.38" />
<line x1="1134.0" y1="716.0" x2="1109.0" y2="741.0" stroke="#000" stroke-width="1.15" />
<rect x="1188.0" y="710.0" width="7.3" height="205.3" fill="#000"/>
<rect x="1186.5" y="784.0" width="9.5" height="80.0" fill="#fff"/>
<line x1="1189.0" y1="784.0" x2="1189.0" y2="864.0" stroke="#000" stroke-width="1.15" />
<line x1="1194.0" y1="784.0" x2="1194.0" y2="864.0" stroke="#000" stroke-width="1.15" />
<rect x="1186.5" y="808.0" width="9.5" height="4.0" fill="#000"/>
<rect x="1186.5" y="836.0" width="9.5" height="4.0" fill="#000"/>
<rect x="1175.0" y="913.4" width="31.0" height="29.6" fill="#000"/>
<line x1="1073.4" y1="913.4" x2="1175.0" y2="913.4" stroke="#000" stroke-width="1.38" />
<rect x="1051.3" y="913.4" width="24.0" height="9.6" fill="#000"/>
<rect x="1051.3" y="913.4" width="14.7" height="29.6" fill="#000"/>
<rect x="1051.3" y="913.0" width="9.2" height="190.6" fill="#000"/>
<rect x="1050.0" y="972.5" width="12.0" height="86.8" fill="#fff"/>
<line x1="1052.0" y1="972.5" x2="1052.0" y2="1059.3" stroke="#000" stroke-width="1.15" />
<line x1="1059.5" y1="972.5" x2="1059.5" y2="1059.3" stroke="#000" stroke-width="1.15" />
<rect x="1050.0" y="1000.0" width="12.0" height="4.0" fill="#000"/>
<rect x="1050.0" y="1028.0" width="12.0" height="4.0" fill="#000"/>
<rect x="1021.7" y="1094.3" width="38.8" height="9.3" fill="#000"/>
<rect x="1025.4" y="1103.6" width="33.3" height="16.4" fill="#fff" stroke="#000" stroke-width="1.2"/>
<line x1="796.5" y1="1090.7" x2="1025.4" y2="1090.7" stroke="#000" stroke-width="1.38" />
<rect x="759.5" y="1094.3" width="37.0" height="9.3" fill="#000"/>
<rect x="757.7" y="1103.6" width="33.3" height="16.4" fill="#fff" stroke="#000" stroke-width="1.2"/>
<rect x="759.5" y="1028.0" width="7.5" height="75.6" fill="#000"/>
<rect x="741.0" y="1028.0" width="26.0" height="7.0" fill="#000"/>
<rect x="741.0" y="921.0" width="5.6" height="114.0" fill="#000"/>
<rect x="739.5" y="935.6" width="8.5" height="84.9" fill="#fff"/>
<line x1="741.5" y1="935.6" x2="741.5" y2="1020.5" stroke="#000" stroke-width="1.15" />
<line x1="746.0" y1="935.6" x2="746.0" y2="1020.5" stroke="#000" stroke-width="1.15" />
<rect x="739.5" y="962.0" width="8.5" height="4.0" fill="#000"/>
<rect x="739.5" y="991.0" width="8.5" height="4.0" fill="#000"/>
<rect x="741.0" y="921.0" width="26.0" height="7.0" fill="#000"/>
<rect x="759.5" y="832.0" width="7.5" height="96.0" fill="#000"/>
<line x1="646.0" y1="712.0" x2="673.0" y2="742.0" stroke="#000" stroke-width="8" stroke-linecap="square"/>
<line x1="673.0" y1="740.0" x2="745.0" y2="815.0" stroke="#000" stroke-width="1.38" />
<line x1="679.0" y1="736.0" x2="751.0" y2="811.0" stroke="#000" stroke-width="1.38" />
<line x1="700.0" y1="770.0" x2="706.0" y2="776.0" stroke="#000" stroke-width="9" stroke-linecap="square"/>
<line x1="730.0" y1="800.0" x2="737.0" y2="807.0" stroke="#000" stroke-width="9" stroke-linecap="square"/>
<line x1="747.0" y1="818.0" x2="762.0" y2="833.0" stroke="#000" stroke-width="8" stroke-linecap="square"/>
<line x1="762.0" y1="833.0" x2="877.0" y2="712.0" stroke="#000" stroke-width="8" stroke-linecap="square"/>
<rect x="762.8" y="673.0" width="6.7" height="58.0" fill="#000"/>
<line x1="766.0" y1="690.0" x2="832.0" y2="755.0" stroke="#000" stroke-width="8" stroke-linecap="square"/>
<line x1="808.0" y1="768.0" x2="816.0" y2="780.0" stroke="#000" stroke-width="9" stroke-linecap="square"/>
<line x1="770.0" y1="700.0" x2="760.0" y2="710.0" stroke="#000" stroke-width="1.15" />
<line x1="773.3" y1="703.5" x2="763.3" y2="713.5" stroke="#000" stroke-width="1.15" />
<line x1="776.6" y1="707.1" x2="766.6" y2="717.1" stroke="#000" stroke-width="1.15" />
<line x1="779.9" y1="710.6" x2="769.9" y2="720.6" stroke="#000" stroke-width="1.15" />
<line x1="783.2" y1="714.1" x2="773.2" y2="724.1" stroke="#000" stroke-width="1.15" />
<line x1="786.5" y1="717.6" x2="776.5" y2="727.6" stroke="#000" stroke-width="1.15" />
<line x1="789.8" y1="721.2" x2="779.8" y2="731.2" stroke="#000" stroke-width="1.15" />
<line x1="793.1" y1="724.7" x2="783.1" y2="734.7" stroke="#000" stroke-width="1.15" />
<line x1="796.4" y1="728.2" x2="786.4" y2="738.2" stroke="#000" stroke-width="1.15" />
<line x1="799.6" y1="731.8" x2="789.6" y2="741.8" stroke="#000" stroke-width="1.15" />
<line x1="802.9" y1="735.3" x2="792.9" y2="745.3" stroke="#000" stroke-width="1.15" />
<line x1="806.2" y1="738.8" x2="796.2" y2="748.8" stroke="#000" stroke-width="1.15" />
<line x1="809.5" y1="742.4" x2="799.5" y2="752.4" stroke="#000" stroke-width="1.15" />
<line x1="812.8" y1="745.9" x2="802.8" y2="755.9" stroke="#000" stroke-width="1.15" />
<line x1="816.1" y1="749.4" x2="806.1" y2="759.4" stroke="#000" stroke-width="1.15" />
<line x1="819.4" y1="752.9" x2="809.4" y2="762.9" stroke="#000" stroke-width="1.15" />
<line x1="822.7" y1="756.5" x2="812.7" y2="766.5" stroke="#000" stroke-width="1.15" />
<line x1="826.0" y1="760.0" x2="816.0" y2="770.0" stroke="#000" stroke-width="1.15" />
<line x1="807.0" y1="792.9" x2="839.0" y2="823.3" stroke="#000" stroke-width="1.38" />
<line x1="814.6" y1="784.9" x2="846.9" y2="815.6" stroke="#000" stroke-width="1.38" />
<line x1="822.2" y1="776.9" x2="854.9" y2="807.9" stroke="#000" stroke-width="1.38" />
<line x1="829.8" y1="768.9" x2="862.8" y2="800.3" stroke="#000" stroke-width="1.38" />
<line x1="837.4" y1="760.9" x2="870.7" y2="792.6" stroke="#000" stroke-width="1.38" />
<line x1="845.0" y1="753.0" x2="878.7" y2="785.0" stroke="#000" stroke-width="1.38" />
<polyline points="767.0,841.4 818.6,843.0 881.4,782.3 874.0,775.0" fill="none" stroke="#000" stroke-width="1.2" stroke-linejoin="miter" />
<line x1="765.0" y1="847.0" x2="821.0" y2="848.5" stroke="#000" stroke-width="1.15" />
<line x1="821.0" y1="848.5" x2="886.0" y2="785.0" stroke="#000" stroke-width="1.15" />
<polygon points="811.0,790.0 830.0,810.0 814.0,812.0" fill="#000"/>
<line x1="818.0" y1="803.0" x2="863.0" y2="758.0" stroke="#000" stroke-width="1.5" />
<polyline points="683.0,775.0 649.0,804.0 689.0,849.0 726.0,812.0" fill="none" stroke="#000" stroke-width="1.3" stroke-linejoin="miter" />
<polyline points="683.6,774.3 685.5,778.3 689.2,780.2 691.8,783.4 694.9,786.0 698.9,787.6 701.6,790.7 704.5,793.5 706.4,797.5 710.3,799.2 714.2,800.8 716.9,803.9 720.3,806.2 722.3,810.0 725.6,812.4" fill="none" stroke="#000" stroke-width="1.2" stroke-linejoin="round"/>
<line x1="645.0" y1="800.0" x2="651.0" y2="806.0" stroke="#000" stroke-width="1.15" />
<rect x="921.8" y="158.3" width="24.8" height="23.5" fill="#fff" stroke="#000" stroke-width="1.2"/>
<rect x="929.6" y="163.5" width="14.4" height="14.5" fill="#000"/>
<rect x="1061.7" y="158.3" width="26.1" height="26.2" fill="#fff" stroke="#000" stroke-width="1.2"/>
<rect x="1067.0" y="163.5" width="17.0" height="14.5" fill="#000"/>
<rect x="1209.4" y="163.5" width="22.2" height="21.0" fill="#fff" stroke="#000" stroke-width="1.2"/>
<polyline points="947.0,161.4 951.1,163.0 955.1,162.9 959.2,161.3 963.3,164.0 967.4,164.0 971.4,164.0 975.5,161.3 979.6,164.0 983.6,164.0 987.7,160.0 991.8,164.0 995.9,164.0 999.9,161.2 1004.0,162.3 1008.1,162.7 1012.1,162.2 1016.2,161.2 1020.3,162.3 1024.4,164.0 1028.4,162.2 1032.5,162.5 1036.6,161.4 1040.6,161.1 1044.7,161.5 1048.8,163.0 1052.9,162.3 1056.9,160.0 1061.0,161.6" fill="none" stroke="#000" stroke-width="1.2" stroke-linejoin="round"/>
<line x1="950.0" y1="168.0" x2="1061.0" y2="168.0" stroke="#000" stroke-width="1.15" />
<line x1="950.0" y1="172.0" x2="1061.0" y2="172.0" stroke="#000" stroke-width="1.15" />
<polyline points="1088.0,162.3 1092.0,161.9 1096.1,161.2 1100.1,160.1 1104.1,161.1 1108.2,161.4 1112.2,161.6 1116.2,164.2 1120.3,160.3 1124.3,162.7 1128.3,164.3 1132.4,160.4 1136.4,161.5 1140.4,163.2 1144.5,162.6 1148.5,162.5 1152.5,160.5 1156.6,162.6 1160.6,160.6 1164.6,161.7 1168.7,160.7 1172.7,162.7 1176.7,163.0 1180.8,163.0 1184.8,161.9 1188.8,163.8 1192.9,162.8 1196.9,162.7 1200.9,164.9 1205.0,162.3 1209.0,162.5" fill="none" stroke="#000" stroke-width="1.2" stroke-linejoin="round"/>
<line x1="1092.0" y1="168.0" x2="1209.0" y2="169.0" stroke="#000" stroke-width="1.15" />
<line x1="1092.0" y1="172.0" x2="1209.0" y2="173.0" stroke="#000" stroke-width="1.15" />
<circle cx="981.0" cy="170.0" r="2.0" fill="#fff" stroke="#000" stroke-width="1"/>
<circle cx="1030.0" cy="170.0" r="2.0" fill="#fff" stroke="#000" stroke-width="1"/>
<circle cx="1106.0" cy="170.0" r="2.0" fill="#fff" stroke="#000" stroke-width="1"/>
<circle cx="1127.0" cy="170.0" r="2.0" fill="#fff" stroke="#000" stroke-width="1"/>
<circle cx="1153.0" cy="170.0" r="2.0" fill="#fff" stroke="#000" stroke-width="1"/>
<polyline points="949.0,178.0 949.0,198.8 975.4,198.8" fill="none" stroke="#000" stroke-width="1.2" stroke-linejoin="miter" />
<polyline points="1034.2,198.8 1059.0,198.8 1059.0,178.0" fill="none" stroke="#000" stroke-width="1.2" stroke-linejoin="miter" />
<line x1="949.0" y1="178.0" x2="1059.0" y2="178.0" stroke="#000" stroke-width="1.38" />
<rect x="975.4" y="178.0" width="58.8" height="27.4" fill="#fff" stroke="#000" stroke-width="1.2"/>
<rect x="987.0" y="200.0" width="35.4" height="2.8" fill="#000"/>
<line x1="1217.0" y1="185.0" x2="1217.0" y2="307.4" stroke="#000" stroke-width="1.265" />
<line x1="1221.0" y1="185.0" x2="1221.0" y2="307.4" stroke="#000" stroke-width="1.265" />
<polyline points="1224.2,185.0 1225.3,189.1 1223.6,193.1 1222.5,197.2 1224.1,201.3 1226.5,205.3 1225.3,209.4 1225.2,213.5 1226.5,217.5 1224.0,221.6 1223.7,225.7 1225.0,229.7 1224.2,233.8 1224.2,237.9 1224.6,241.9 1224.1,246.0 1224.6,250.1 1224.4,254.1 1225.1,258.2 1225.3,262.3 1226.5,266.3 1226.5,270.4 1226.5,274.5 1224.1,278.5 1224.1,282.6 1225.4,286.7 1224.8,290.7 1223.9,294.8 1225.4,298.9 1223.7,302.9 1225.3,307.0" fill="none" stroke="#000" stroke-width="1.1" stroke-linejoin="round"/>
<ellipse cx="1219" cy="190" rx="2" ry="2" fill="#fff" stroke="#000" stroke-width="1.1"/>
<ellipse cx="1219" cy="228" rx="2" ry="2" fill="#fff" stroke="#000" stroke-width="1.1"/>
<ellipse cx="1219" cy="262" rx="2" ry="2" fill="#fff" stroke="#000" stroke-width="1.1"/>
<ellipse cx="1219" cy="300" rx="2" ry="2" fill="#fff" stroke="#000" stroke-width="1.1"/>
<rect x="1209.4" y="307.0" width="22.6" height="21.0" fill="#fff" stroke="#000" stroke-width="1.2"/>
<polyline points="1221.6,327.9 1221.8,332.6 1221.8,337.3 1221.8,341.9 1221.6,346.6 1221.4,351.2 1221.0,355.9 1220.5,360.5 1220.0,365.1 1219.3,369.8 1218.6,374.4 1217.7,378.9 1216.8,383.5 1215.7,388.1 1214.6,392.6 1213.4,397.1 1212.0,401.5 1210.6,406.0 1209.0,410.4 1207.4,414.7 1205.7,419.1 1203.9,423.4 1202.0,427.6 1200.0,431.8 1197.9,436.0 1195.7,440.1 1193.5,444.2 1191.1,448.2 1188.7,452.2 1186.1,456.1 1183.5,460.0 1180.8,463.8 1178.1,467.5 1175.2,471.2 1172.3,474.8 1169.3,478.4 1166.2,481.9 1163.0,485.3 1159.8,488.7 1156.5,492.0 1153.1,495.2" fill="none" stroke="#000" stroke-width="1" stroke-linejoin="miter" />
<polyline points="1218.4,328.1 1218.6,332.7 1218.6,337.3 1218.6,341.8 1218.4,346.4 1218.2,351.0 1217.8,355.6 1217.4,360.2 1216.8,364.7 1216.2,369.3 1215.4,373.8 1214.6,378.3 1213.7,382.8 1212.6,387.3 1211.5,391.8 1210.3,396.2 1209.0,400.6 1207.5,404.9 1206.0,409.3 1204.4,413.6 1202.7,417.9 1201.0,422.1 1199.1,426.3 1197.1,430.4 1195.1,434.5 1192.9,438.6 1190.7,442.6 1188.4,446.6 1185.9,450.5 1183.5,454.3 1180.9,458.2 1178.2,461.9 1175.5,465.6 1172.7,469.2 1169.8,472.8 1166.8,476.3 1163.8,479.7 1160.7,483.1 1157.5,486.4 1154.2,489.7 1150.9,492.8" fill="none" stroke="#000" stroke-width="1" stroke-linejoin="miter" />
<polyline points="1225.5,327.8 1227.0,332.5 1224.6,337.3 1224.9,342.0 1224.8,346.7 1226.7,351.6 1223.2,356.1 1224.2,360.9 1224.1,365.7 1223.0,370.3 1222.2,375.0 1220.3,379.5 1219.6,384.1 1219.8,389.0 1218.0,393.5 1216.9,398.1 1215.1,402.5 1212.2,406.5 1210.8,411.0 1212.8,416.8 1208.5,420.2 1207.7,425.0 1205.1,429.0 1203.5,433.5 1201.1,437.7 1199.0,441.9 1197.3,446.4 1193.7,449.8 1192.1,454.3 1189.5,458.4 1186.1,461.7 1183.4,465.7 1180.9,469.7 1176.4,472.2 1173.5,475.8 1172.2,480.9 1168.2,483.7 1165.6,487.8 1162.5,491.4 1158.8,494.4 1155.2,497.3" fill="none" stroke="#000" stroke-width="1.1" stroke-linejoin="miter" />
<ellipse cx="1220.152539332908" cy="341.8789792672252" rx="2" ry="2" fill="#fff" stroke="#000" stroke-width="1.1"/>
<ellipse cx="1216.1722341381478" cy="378.6373548999857" rx="2" ry="2" fill="#fff" stroke="#000" stroke-width="1.1"/>
<ellipse cx="1205.928188805684" cy="414.1631278518721" rx="2" ry="2" fill="#fff" stroke="#000" stroke-width="1.1"/>
<ellipse cx="1189.7257997110132" cy="447.3972006722089" rx="2" ry="2" fill="#fff" stroke="#000" stroke-width="1.1"/>
<ellipse cx="1168.0480938950461" cy="477.348796275097" rx="2" ry="2" fill="#fff" stroke="#000" stroke-width="1.1"/>
<rect x="1131.0" y="496.0" width="24.5" height="21.0" fill="#fff" stroke="#000" stroke-width="1.2"/>
<line x1="1140.0" y1="517.0" x2="1140.0" y2="706.0" stroke="#000" stroke-width="1.265" />
<line x1="1144.0" y1="517.0" x2="1144.0" y2="706.0" stroke="#000" stroke-width="1.265" />
<polyline points="1147.2,517.0 1147.8,521.0 1148.2,525.0 1147.2,529.1 1148.2,533.1 1147.0,537.1 1148.2,541.1 1149.5,545.1 1148.0,549.2 1146.8,553.2 1147.1,557.2 1147.1,561.2 1149.5,565.3 1148.0,569.3 1149.5,573.3 1149.5,577.3 1146.9,581.3 1149.5,585.4 1147.9,589.4 1145.5,593.4 1147.1,597.4 1147.2,601.4 1148.2,605.5 1147.7,609.5 1146.7,613.5 1147.4,617.5 1149.5,621.6 1147.1,625.6 1147.6,629.6 1145.5,633.6 1148.0,637.6 1145.5,641.7 1145.5,645.7 1147.5,649.7 1146.8,653.7 1145.5,657.7 1145.5,661.8 1149.5,665.8 1145.5,669.8 1147.4,673.8 1147.5,677.9 1146.8,681.9 1147.7,685.9 1148.1,689.9 1147.7,693.9 1148.3,698.0 1145.5,702.0 1147.7,706.0" fill="none" stroke="#000" stroke-width="1.1" stroke-linejoin="round"/>
<ellipse cx="1142" cy="520" rx="2" ry="2" fill="#fff" stroke="#000" stroke-width="1.1"/>
<ellipse cx="1142" cy="553" rx="2" ry="2" fill="#fff" stroke="#000" stroke-width="1.1"/>
<ellipse cx="1142" cy="582" rx="2" ry="2" fill="#fff" stroke="#000" stroke-width="1.1"/>
<ellipse cx="1142" cy="613" rx="2" ry="2" fill="#fff" stroke="#000" stroke-width="1.1"/>
<ellipse cx="1142" cy="642" rx="2" ry="2" fill="#fff" stroke="#000" stroke-width="1.1"/>
<ellipse cx="1142" cy="668" rx="2" ry="2" fill="#fff" stroke="#000" stroke-width="1.1"/>
<ellipse cx="1142" cy="700" rx="2" ry="2" fill="#fff" stroke="#000" stroke-width="1.1"/>
<polyline points="1082.0,628.2 1086.1,628.2 1090.3,629.2 1094.4,630.7 1098.6,629.3 1102.7,630.6 1106.8,627.0 1111.0,629.3 1115.1,628.7 1119.3,628.2 1123.4,628.4 1127.6,629.2 1131.7,628.5 1135.9,630.3 1140.0,628.2" fill="none" stroke="#000" stroke-width="1.3" stroke-linejoin="round"/>
<polyline points="1082.0,638.4 1086.1,637.3 1090.3,637.3 1094.4,639.5 1098.6,637.4 1102.7,637.3 1106.9,639.4 1111.0,636.9 1115.2,639.3 1119.3,639.3 1123.4,635.6 1127.6,639.2 1131.7,635.6 1135.9,639.1 1140.0,637.0" fill="none" stroke="#000" stroke-width="1.3" stroke-linejoin="round"/>
<polyline points="1082.0,647.4 1086.1,648.7 1090.3,647.3 1094.4,648.1 1098.6,648.2 1102.7,648.3 1106.9,647.2 1111.0,647.8 1115.1,647.6 1119.3,647.8 1123.4,649.4 1127.6,647.7 1131.7,648.3 1135.8,645.7 1140.0,646.9" fill="none" stroke="#000" stroke-width="1.3" stroke-linejoin="round"/>
<polyline points="1082.0,658.5 1086.1,659.1 1090.3,658.4 1094.4,658.6 1098.6,660.5 1102.7,656.8 1106.9,658.9 1111.0,658.2 1115.1,658.5 1119.3,660.3 1123.4,658.7 1127.6,659.1 1131.7,658.3 1135.9,660.1 1140.0,658.0" fill="none" stroke="#000" stroke-width="1.3" stroke-linejoin="round"/>
<line x1="933.8" y1="185.0" x2="933.8" y2="209.4" stroke="#000" stroke-width="1.38" />
<line x1="937.0" y1="185.0" x2="937.0" y2="209.0" stroke="#000" stroke-width="1.15" />
<line x1="935.6" y1="263.4" x2="935.6" y2="316.0" stroke="#000" stroke-width="1.38" />
<line x1="939.0" y1="263.0" x2="939.0" y2="316.0" stroke="#000" stroke-width="1.15" />
<polyline points="832.4,127.8 830.2,131.8 831.4,135.9 830.2,139.9 831.1,143.9 831.5,148.0 833.8,152.0 830.2,156.0 830.2,160.1 830.2,164.1 831.8,168.1 831.5,172.2 831.8,176.2 831.8,180.2 831.8,184.3 832.5,188.3 832.1,192.3 833.8,196.4 833.8,200.4 832.2,204.5 831.5,208.5 832.4,212.5 832.1,216.6 832.1,220.6 833.8,224.6 831.4,228.7 832.1,232.7 830.2,236.7 831.8,240.8 830.2,244.8 830.2,248.8 833.8,252.9 833.8,256.9 831.1,260.9 830.2,265.0 832.9,269.0" fill="none" stroke="#000" stroke-width="1.2" stroke-linejoin="round"/>
<line x1="838.0" y1="130.0" x2="838.0" y2="200.0" stroke="#000" stroke-width="1.265" />
<line x1="842.0" y1="130.0" x2="842.0" y2="200.0" stroke="#000" stroke-width="1.265" />
<line x1="838.0" y1="222.0" x2="838.0" y2="262.0" stroke="#000" stroke-width="1.265" />
<line x1="842.0" y1="222.0" x2="842.0" y2="262.0" stroke="#000" stroke-width="1.265" />
<line x1="845.0" y1="127.8" x2="845.0" y2="269.0" stroke="#000" stroke-width="1.38" stroke-dasharray="10,3"/>
<polyline points="900.4,82.0 901.3,86.1 902.6,90.2 899.0,94.3 900.9,98.4 901.2,102.5 902.6,106.6 900.1,110.7 900.6,114.7 901.1,118.8 900.0,122.9 900.6,127.0 900.0,131.1 902.6,135.2 901.0,139.3 900.6,143.4 901.0,147.5 900.0,151.6 902.6,155.7 900.6,159.8 900.3,163.9 900.1,168.0 899.0,172.1 900.6,176.1 901.3,180.2 901.0,184.3 901.3,188.4 900.5,192.5 902.6,196.6 902.6,200.7 901.2,204.8" fill="none" stroke="#000" stroke-width="1.2" stroke-linejoin="round"/>
<line x1="888.0" y1="130.0" x2="888.0" y2="204.8" stroke="#000" stroke-width="1.38" stroke-dasharray="8,4"/>
<line x1="892.0" y1="84.0" x2="892.0" y2="116.0" stroke="#000" stroke-width="1.265" />
<line x1="895.0" y1="84.0" x2="895.0" y2="116.0" stroke="#000" stroke-width="1.265" />
<polyline points="832.0,269.7 836.1,269.6 840.3,269.8 844.4,268.2 848.6,269.6 852.7,269.5 856.9,268.5 861.0,269.4 865.2,268.4 869.3,269.5 873.4,271.0 877.6,269.5 881.7,269.2 885.9,269.8 890.0,269.0 894.2,268.4 898.3,268.4 902.4,268.7 906.6,268.8 910.7,271.0 914.9,271.0 919.0,269.6 923.2,269.2 927.3,267.0 931.5,268.4 935.6,269.1" fill="none" stroke="#000" stroke-width="1.2" stroke-linejoin="round"/>
<polyline points="845.0,258.2 849.1,257.4 853.2,260.0 857.4,258.5 861.5,258.9 865.6,257.1 869.7,256.0 873.8,257.1 877.9,258.4 882.1,258.7 886.2,258.7 890.3,258.8 894.4,257.2 898.5,260.0 902.7,257.4 906.8,257.7 910.9,258.4 915.0,258.9 919.1,257.1 923.2,257.1 927.4,257.5 931.5,258.5 935.6,258.0" fill="none" stroke="#000" stroke-width="1.2" stroke-linejoin="round"/>
<line x1="848.0" y1="262.0" x2="885.0" y2="262.0" stroke="#000" stroke-width="1.265" />
<line x1="900.0" y1="262.0" x2="934.0" y2="262.0" stroke="#000" stroke-width="1.265" />
<polyline points="845.0,120.7 849.3,119.6 853.6,121.7 857.9,121.6 862.2,120.7 866.5,123.2 870.8,121.2 875.1,122.0 879.4,122.1 883.7,122.1 888.0,120.8" fill="none" stroke="#000" stroke-width="1.3" stroke-linejoin="round" stroke-dasharray="10,2,7,3"/>
<polyline points="845.0,134.1 849.3,132.7 853.6,133.3 857.9,134.0 862.2,134.3 866.5,135.3 870.8,133.2 875.1,132.8 879.4,133.2 883.7,132.9 888.0,134.2" fill="none" stroke="#000" stroke-width="1.3" stroke-linejoin="round" stroke-dasharray="10,2,7,3"/>
<polyline points="845.0,144.9 849.3,144.4 853.6,146.8 857.9,144.7 862.2,145.0 866.5,143.2 870.8,145.2 875.1,145.8 879.4,143.2 883.7,145.8 888.0,144.6" fill="none" stroke="#000" stroke-width="1.3" stroke-linejoin="round" stroke-dasharray="10,2,7,3"/>
<polyline points="845.0,155.5 849.3,155.5 853.6,155.8 857.9,156.6 862.2,155.4 866.5,155.9 870.8,156.0 875.1,156.5 879.4,155.6 883.7,155.2 888.0,155.6" fill="none" stroke="#000" stroke-width="1.3" stroke-linejoin="round" stroke-dasharray="10,2,7,3"/>
<polyline points="845.0,167.4 849.3,168.6 853.6,167.5 857.9,168.2 862.2,168.7 866.5,168.5 870.8,167.3 875.1,168.2 879.4,169.8 883.7,168.6 888.0,168.0" fill="none" stroke="#000" stroke-width="1.3" stroke-linejoin="round" stroke-dasharray="10,2,7,3"/>
<polyline points="845.0,179.3 849.3,179.2 853.6,181.4 857.9,180.3 862.2,180.3 866.5,179.0 870.8,179.4 875.1,179.4 879.4,178.7 883.7,179.5 888.0,178.9" fill="none" stroke="#000" stroke-width="1.3" stroke-linejoin="round" stroke-dasharray="10,2,7,3"/>
<polyline points="845.0,191.4 849.3,191.6 853.6,190.7 857.9,190.8 862.2,190.2 866.5,191.8 870.8,191.0 875.1,189.2 879.4,190.5 883.7,190.3 888.0,191.6" fill="none" stroke="#000" stroke-width="1.3" stroke-linejoin="round" stroke-dasharray="10,2,7,3"/>
<polyline points="832.0,202.1 836.0,202.2 840.0,205.0 844.0,203.0 848.0,202.2 852.0,201.0 856.0,202.9 860.0,201.0 864.0,201.0 868.0,205.0 872.0,203.5 876.0,203.7 880.0,202.8 884.0,203.7 888.0,202.8 892.0,203.6 896.0,202.5 900.0,202.9 904.0,203.6 908.0,203.6 912.0,202.1 916.0,203.9 920.0,202.5 924.0,203.3 928.0,205.0 932.0,202.4 936.0,202.5 940.0,202.8" fill="none" stroke="#000" stroke-width="1.2" stroke-linejoin="round"/>
<polyline points="832.0,216.8 836.0,213.8 840.0,214.9 844.0,215.3 848.0,215.3 852.0,216.6 856.0,215.3 860.0,215.7 864.0,215.4 868.0,217.8 872.0,215.0 876.0,216.7 880.0,215.8 884.0,216.6 888.0,215.3 892.0,216.3 896.0,215.7 900.0,215.2 904.0,215.9 908.0,216.6 912.0,215.8 916.0,214.9 920.0,215.2 924.0,216.7 928.0,216.6 932.0,216.7 936.0,215.5 940.0,216.6" fill="none" stroke="#000" stroke-width="1.2" stroke-linejoin="round"/>
<rect x="888.0" y="116.8" width="12.8" height="14.7" fill="#fff" stroke="#000" stroke-width="1.2"/>
<rect x="888.0" y="203.0" width="12.8" height="13.7" fill="#fff" stroke="#000" stroke-width="1.2"/>
<rect x="889.0" y="255.0" width="11.8" height="14.0" fill="#fff" stroke="#000" stroke-width="1.2"/>
<rect x="832.0" y="203.0" width="13.0" height="13.0" fill="#fff" stroke="#000" stroke-width="1"/>
<rect x="832.0" y="258.0" width="13.0" height="11.0" fill="#fff" stroke="#000" stroke-width="1"/>
<line x1="895.3" y1="216.0" x2="895.3" y2="258.0" stroke="#000" stroke-width="1.38" stroke-dasharray="6,3"/>
<line x1="908.0" y1="216.0" x2="908.0" y2="258.0" stroke="#000" stroke-width="1.38" stroke-dasharray="6,3"/>
<line x1="919.0" y1="216.0" x2="919.0" y2="258.0" stroke="#000" stroke-width="1.38" stroke-dasharray="6,3"/>
<line x1="931.0" y1="216.0" x2="931.0" y2="258.0" stroke="#000" stroke-width="1.38" stroke-dasharray="6,3"/>
<polyline points="805.7,100.0 809.8,101.4 812.8,104.7 816.4,106.9 820.0,109.2 823.7,111.3 827.2,113.7 830.9,115.8 835.4,116.4 838.4,119.7" fill="none" stroke="#000" stroke-width="1.5" stroke-linejoin="round"/>
<polyline points="811.7,93.6 815.3,95.7 819.1,97.6 822.7,99.8 826.4,101.9 831.3,101.8 834.5,104.8 837.6,107.9 840.9,110.7 845.1,111.9" fill="none" stroke="#000" stroke-width="1.2" stroke-linejoin="round"/>
<polyline points="803.7,110.5 807.4,112.9 811.6,114.3 815.3,116.7 819.2,118.6 822.7,121.3 826.7,123.2 829.9,126.3 834.1,127.9" fill="none" stroke="#000" stroke-width="1.2" stroke-linejoin="round"/>
<polyline points="837.5,118.8 841.2,115.7 842.7,111.8 842.2,107.1 844.6,103.6 845.0,99.2 845.3,94.9 848.1,91.4 849.7,87.5 851.2,83.6 852.9,79.8 854.9,76.1 855.9,72.0" fill="none" stroke="#000" stroke-width="1.2" stroke-linejoin="round" stroke-dasharray="7,3"/>
<polyline points="865.4,69.3 868.5,72.3 873.2,72.4 876.3,75.4 879.8,77.8 883.3,80.1 886.6,82.7 890.7,83.9 893.9,86.8 898.0,88.0" fill="none" stroke="#000" stroke-width="1.2" stroke-linejoin="round" stroke-dasharray="7,3"/>
<polyline points="879.8,70.2 883.6,72.8 886.3,76.4 889.3,79.7 893.2,82.1 896.3,85.4 900.1,87.9" fill="none" stroke="#000" stroke-width="1.5" stroke-linejoin="round"/>
<circle cx="894.0" cy="138.0" r="1.8" fill="#fff" stroke="#000" stroke-width="1"/>
<circle cx="894.0" cy="156.0" r="1.8" fill="#fff" stroke="#000" stroke-width="1"/>
<circle cx="894.0" cy="176.0" r="1.8" fill="#fff" stroke="#000" stroke-width="1"/>
<circle cx="894.0" cy="190.0" r="1.8" fill="#fff" stroke="#000" stroke-width="1"/>
<circle cx="840.0" cy="200.0" r="1.8" fill="#fff" stroke="#000" stroke-width="1"/>
<circle cx="840.0" cy="240.0" r="1.8" fill="#fff" stroke="#000" stroke-width="1"/>
<rect x="94.0" y="714.8" width="30.3" height="27.7" fill="#fff" stroke="#000" stroke-width="1.2"/>
<rect x="94.0" y="833.7" width="29.0" height="27.7" fill="#fff" stroke="#000" stroke-width="1.2"/>
<rect x="249.0" y="834.8" width="30.4" height="27.7" fill="#fff" stroke="#000" stroke-width="1.2"/>
<rect x="375.4" y="716.6" width="31.4" height="29.4" fill="#fff" stroke="#000" stroke-width="1.2"/>
<rect x="384.6" y="726.6" width="13.0" height="12.2" fill="#000"/>
<rect x="510.0" y="714.8" width="32.0" height="32.2" fill="#fff" stroke="#000" stroke-width="1.2"/>
<rect x="519.0" y="723.0" width="15.0" height="17.0" fill="#000"/>
<rect x="374.0" y="835.5" width="33.0" height="31.5" fill="#fff" stroke="#000" stroke-width="1.2"/>
<rect x="383.0" y="844.0" width="15.0" height="14.8" fill="#000"/>
<rect x="511.0" y="838.5" width="30.6" height="31.5" fill="#fff" stroke="#000" stroke-width="1.2"/>
<rect x="518.7" y="847.0" width="15.3" height="15.5" fill="#000"/>
<rect x="374.0" y="934.5" width="33.0" height="31.5" fill="#fff" stroke="#000" stroke-width="1.2"/>
<rect x="512.0" y="937.0" width="29.6" height="34.0" fill="#fff" stroke="#000" stroke-width="1.2"/>
<line x1="102.0" y1="629.0" x2="102.0" y2="714.8" stroke="#000" stroke-width="1.38" />
<line x1="116.0" y1="629.0" x2="116.0" y2="714.8" stroke="#000" stroke-width="1.38" />
<line x1="102.0" y1="742.5" x2="102.0" y2="833.7" stroke="#000" stroke-width="1.38" />
<line x1="115.8" y1="742.5" x2="115.8" y2="833.7" stroke="#000" stroke-width="1.38" />
<line x1="123.0" y1="842.0" x2="249.0" y2="842.0" stroke="#000" stroke-width="1.38" />
<line x1="123.0" y1="855.0" x2="249.0" y2="855.0" stroke="#000" stroke-width="1.38" />
<line x1="279.4" y1="843.0" x2="374.0" y2="843.0" stroke="#000" stroke-width="1.38" />
<line x1="279.4" y1="856.0" x2="374.0" y2="857.0" stroke="#000" stroke-width="1.38" />
<polyline points="386.9,746.0 386.8,750.0 386.5,754.1 386.9,758.1 386.4,762.2 385.9,766.2 387.0,770.3 386.2,774.3 385.3,778.4 387.7,782.4 386.3,786.5 386.5,790.5 386.8,794.5 386.5,798.6 386.4,802.6 387.0,806.7 387.7,810.7 387.0,814.8 386.5,818.8 386.6,822.9 386.3,826.9 387.7,831.0 386.7,835.0" fill="none" stroke="#000" stroke-width="1.2" stroke-linejoin="round"/>
<line x1="386.5" y1="750.5" x2="390.5" y2="750.5" stroke="#000" stroke-width="1.1"/>
<line x1="386.5" y1="757.7" x2="390.5" y2="757.7" stroke="#000" stroke-width="1.1"/>
<line x1="386.5" y1="765.5" x2="390.5" y2="765.5" stroke="#000" stroke-width="1.1"/>
<line x1="386.5" y1="772.3" x2="390.5" y2="772.3" stroke="#000" stroke-width="1.1"/>
<line x1="386.5" y1="783.5" x2="390.5" y2="783.5" stroke="#000" stroke-width="1.1"/>
<line x1="386.5" y1="792.9" x2="390.5" y2="792.9" stroke="#000" stroke-width="1.1"/>
<line x1="386.5" y1="801.1" x2="390.5" y2="801.1" stroke="#000" stroke-width="1.1"/>
<line x1="386.5" y1="809.8" x2="390.5" y2="809.8" stroke="#000" stroke-width="1.1"/>
<line x1="386.5" y1="818.2" x2="390.5" y2="818.2" stroke="#000" stroke-width="1.1"/>
<line x1="386.5" y1="824.8" x2="390.5" y2="824.8" stroke="#000" stroke-width="1.1"/>
<polyline points="533.9,747.0 533.4,751.1 533.9,755.3 534.5,759.4 533.6,763.5 533.5,767.7 534.2,771.8 533.4,776.0 533.5,780.1 534.1,784.2 534.3,788.4 533.5,792.5 533.6,796.6 534.4,800.8 534.4,804.9 534.3,809.0 534.5,813.2 534.1,817.3 532.8,821.5 533.9,825.6 534.0,829.7 534.1,833.9 534.6,838.0" fill="none" stroke="#000" stroke-width="1.2" stroke-linejoin="round"/>
<line x1="534.0" y1="751.5" x2="530.0" y2="751.5" stroke="#000" stroke-width="1.1"/>
<line x1="534.0" y1="762.1" x2="530.0" y2="762.1" stroke="#000" stroke-width="1.1"/>
<line x1="534.0" y1="769.8" x2="530.0" y2="769.8" stroke="#000" stroke-width="1.1"/>
<line x1="534.0" y1="776.8" x2="530.0" y2="776.8" stroke="#000" stroke-width="1.1"/>
<line x1="534.0" y1="784.1" x2="530.0" y2="784.1" stroke="#000" stroke-width="1.1"/>
<line x1="534.0" y1="793.4" x2="530.0" y2="793.4" stroke="#000" stroke-width="1.1"/>
<line x1="534.0" y1="803.9" x2="530.0" y2="803.9" stroke="#000" stroke-width="1.1"/>
<line x1="534.0" y1="813.2" x2="530.0" y2="813.2" stroke="#000" stroke-width="1.1"/>
<line x1="534.0" y1="822.0" x2="530.0" y2="822.0" stroke="#000" stroke-width="1.1"/>
<line x1="534.0" y1="832.6" x2="530.0" y2="832.6" stroke="#000" stroke-width="1.1"/>
<polyline points="407.0,845.8 411.0,845.7 415.0,846.2 419.0,845.9 423.0,845.8 427.0,846.4 431.0,846.8 435.0,846.2 439.0,846.3 443.0,845.1 447.0,847.6 451.0,846.7 455.0,845.9 459.0,845.3 463.0,846.8 467.0,846.3 471.0,847.8 475.0,847.0 479.0,846.3 483.0,846.2 487.0,847.1 491.0,846.6 495.0,846.8 499.0,847.0 503.0,847.4 507.0,846.8 511.0,847.2" fill="none" stroke="#000" stroke-width="1.2" stroke-linejoin="round"/>
<line x1="411.5" y1="846.0" x2="411.5" y2="850.0" stroke="#000" stroke-width="1.1"/>
<line x1="422.6" y1="846.2" x2="422.6" y2="850.2" stroke="#000" stroke-width="1.1"/>
<line x1="429.1" y1="846.2" x2="429.0" y2="850.2" stroke="#000" stroke-width="1.1"/>
<line x1="439.2" y1="846.3" x2="439.1" y2="850.3" stroke="#000" stroke-width="1.1"/>
<line x1="448.0" y1="846.4" x2="447.9" y2="850.4" stroke="#000" stroke-width="1.1"/>
<line x1="459.7" y1="846.5" x2="459.6" y2="850.5" stroke="#000" stroke-width="1.1"/>
<line x1="468.1" y1="846.6" x2="468.1" y2="850.6" stroke="#000" stroke-width="1.1"/>
<line x1="479.3" y1="846.7" x2="479.3" y2="850.7" stroke="#000" stroke-width="1.1"/>
<line x1="486.2" y1="846.8" x2="486.1" y2="850.8" stroke="#000" stroke-width="1.1"/>
<line x1="494.0" y1="846.8" x2="494.0" y2="850.8" stroke="#000" stroke-width="1.1"/>
<line x1="501.8" y1="846.9" x2="501.8" y2="850.9" stroke="#000" stroke-width="1.1"/>
<polyline points="407.0,858.7 411.0,859.2 415.0,859.1 419.0,859.3 423.0,859.3 427.0,859.2 431.0,859.1 435.0,859.0 439.0,859.5 443.0,859.1 447.0,858.5 451.0,859.2 455.0,859.5 459.0,859.2 463.0,860.2 467.0,858.7 471.0,860.2 475.0,859.6 479.0,858.7 483.0,858.8 487.0,858.9 491.0,859.0 495.0,859.4 499.0,859.0 503.0,858.6 507.0,859.4 511.0,859.0" fill="none" stroke="#000" stroke-width="1.2" stroke-linejoin="round"/>
<line x1="411.5" y1="859.0" x2="411.5" y2="863.0" stroke="#000" stroke-width="1.1"/>
<line x1="418.8" y1="859.0" x2="418.8" y2="863.0" stroke="#000" stroke-width="1.1"/>
<line x1="430.3" y1="859.0" x2="430.3" y2="863.0" stroke="#000" stroke-width="1.1"/>
<line x1="441.0" y1="859.0" x2="441.0" y2="863.0" stroke="#000" stroke-width="1.1"/>
<line x1="450.3" y1="859.0" x2="450.3" y2="863.0" stroke="#000" stroke-width="1.1"/>
<line x1="457.6" y1="859.0" x2="457.6" y2="863.0" stroke="#000" stroke-width="1.1"/>
<line x1="464.8" y1="859.0" x2="464.8" y2="863.0" stroke="#000" stroke-width="1.1"/>
<line x1="475.3" y1="859.0" x2="475.3" y2="863.0" stroke="#000" stroke-width="1.1"/>
<line x1="482.9" y1="859.0" x2="482.9" y2="863.0" stroke="#000" stroke-width="1.1"/>
<line x1="490.6" y1="859.0" x2="490.6" y2="863.0" stroke="#000" stroke-width="1.1"/>
<line x1="502.1" y1="859.0" x2="502.1" y2="863.0" stroke="#000" stroke-width="1.1"/>
<line x1="509.3" y1="859.0" x2="509.3" y2="863.0" stroke="#000" stroke-width="1.1"/>
<polyline points="392.5,867.0 390.8,871.2 391.8,875.4 392.3,879.7 392.1,883.9 392.2,888.1 393.2,892.3 392.2,896.5 391.9,900.8 392.4,905.0 391.9,909.2 391.7,913.4 392.5,917.6 392.2,921.8 392.5,926.1 392.4,930.3 392.1,934.5" fill="none" stroke="#000" stroke-width="1.2" stroke-linejoin="round"/>
<line x1="392.0" y1="871.5" x2="396.0" y2="871.5" stroke="#000" stroke-width="1.1"/>
<line x1="392.0" y1="878.4" x2="396.0" y2="878.4" stroke="#000" stroke-width="1.1"/>
<line x1="392.0" y1="886.5" x2="396.0" y2="886.5" stroke="#000" stroke-width="1.1"/>
<line x1="392.0" y1="895.3" x2="396.0" y2="895.3" stroke="#000" stroke-width="1.1"/>
<line x1="392.0" y1="903.6" x2="396.0" y2="903.6" stroke="#000" stroke-width="1.1"/>
<line x1="392.0" y1="910.8" x2="396.0" y2="910.8" stroke="#000" stroke-width="1.1"/>
<line x1="392.0" y1="917.4" x2="396.0" y2="917.4" stroke="#000" stroke-width="1.1"/>
<line x1="392.0" y1="923.8" x2="396.0" y2="923.8" stroke="#000" stroke-width="1.1"/>
<polyline points="526.7,870.0 527.5,874.2 526.4,878.4 527.5,882.6 527.1,886.8 528.2,890.9 526.8,895.1 526.5,899.3 527.3,903.5 525.8,907.7 526.6,911.9 527.4,916.1 526.6,920.2 527.4,924.4 526.6,928.6 527.2,932.8 526.6,937.0" fill="none" stroke="#000" stroke-width="1.2" stroke-linejoin="round"/>
<line x1="527.0" y1="874.5" x2="523.0" y2="874.5" stroke="#000" stroke-width="1.1"/>
<line x1="527.0" y1="882.5" x2="523.0" y2="882.5" stroke="#000" stroke-width="1.1"/>
<line x1="527.0" y1="890.8" x2="523.0" y2="890.8" stroke="#000" stroke-width="1.1"/>
<line x1="527.0" y1="900.1" x2="523.0" y2="900.1" stroke="#000" stroke-width="1.1"/>
<line x1="527.0" y1="908.4" x2="523.0" y2="908.4" stroke="#000" stroke-width="1.1"/>
<line x1="527.0" y1="919.2" x2="523.0" y2="919.2" stroke="#000" stroke-width="1.1"/>
<line x1="527.0" y1="926.8" x2="523.0" y2="926.8" stroke="#000" stroke-width="1.1"/>
<line x1="527.0" y1="933.3" x2="523.0" y2="933.3" stroke="#000" stroke-width="1.1"/>
<polyline points="407.0,953.2 411.0,953.4 415.1,953.5 419.1,953.0 423.2,952.6 427.2,951.8 431.2,952.6 435.3,951.8 439.3,953.4 443.3,952.7 447.4,952.4 451.4,953.4 455.5,951.8 459.5,953.0 463.5,952.8 467.6,953.2 471.6,953.5 475.7,952.8 479.7,953.1 483.7,954.2 487.8,953.0 491.8,953.0 495.8,952.6 499.9,951.8 503.9,953.3 508.0,953.2 512.0,952.9" fill="none" stroke="#000" stroke-width="1.2" stroke-linejoin="round"/>
<line x1="411.5" y1="953.0" x2="411.5" y2="957.0" stroke="#000" stroke-width="1.1"/>
<line x1="419.8" y1="953.0" x2="419.8" y2="957.0" stroke="#000" stroke-width="1.1"/>
<line x1="429.6" y1="953.0" x2="429.6" y2="957.0" stroke="#000" stroke-width="1.1"/>
<line x1="436.7" y1="953.0" x2="436.7" y2="957.0" stroke="#000" stroke-width="1.1"/>
<line x1="447.6" y1="953.0" x2="447.6" y2="957.0" stroke="#000" stroke-width="1.1"/>
<line x1="456.8" y1="953.0" x2="456.8" y2="957.0" stroke="#000" stroke-width="1.1"/>
<line x1="466.5" y1="953.0" x2="466.5" y2="957.0" stroke="#000" stroke-width="1.1"/>
<line x1="477.4" y1="953.0" x2="477.4" y2="957.0" stroke="#000" stroke-width="1.1"/>
<line x1="484.9" y1="953.0" x2="484.9" y2="957.0" stroke="#000" stroke-width="1.1"/>
<line x1="495.2" y1="953.0" x2="495.2" y2="957.0" stroke="#000" stroke-width="1.1"/>
<line x1="505.2" y1="953.0" x2="505.2" y2="957.0" stroke="#000" stroke-width="1.1"/>
<g transform="translate(139,528) rotate(-43)"><rect x="-34" y="-20" width="68" height="40" rx="14" fill="#fff" stroke="#000" stroke-width="1.5"/></g>
<circle cx="130.0" cy="550.0" r="1.5" fill="#fff" stroke="#000" stroke-width="1"/>
<line x1="121.0" y1="554.0" x2="116.0" y2="563.0" stroke="#000" stroke-width="2.5" />
<line x1="178.0" y1="520.0" x2="137.0" y2="571.0" stroke="#000" stroke-width="1.38" />
<line x1="183.0" y1="526.0" x2="143.0" y2="575.0" stroke="#000" stroke-width="1.38" />
<line x1="178.0" y1="520.0" x2="183.0" y2="526.0" stroke="#000" stroke-width="1.15" />
<line x1="169.8" y1="530.2" x2="175.0" y2="535.8" stroke="#000" stroke-width="1.15" />
<line x1="161.6" y1="540.4" x2="167.0" y2="545.6" stroke="#000" stroke-width="1.15" />
<line x1="153.4" y1="550.6" x2="159.0" y2="555.4" stroke="#000" stroke-width="1.15" />
<line x1="145.2" y1="560.8" x2="151.0" y2="565.2" stroke="#000" stroke-width="1.15" />
<line x1="102.0" y1="571.0" x2="158.0" y2="572.0" stroke="#000" stroke-width="1.265" />
<line x1="102.0" y1="574.0" x2="158.0" y2="575.0" stroke="#000" stroke-width="1.265" />
<line x1="103.0" y1="572.0" x2="130.0" y2="615.0" stroke="#000" stroke-width="1.38" />
<line x1="133.0" y1="574.0" x2="152.0" y2="621.0" stroke="#000" stroke-width="1.38" />
<line x1="103.0" y1="596.6" x2="154.0" y2="598.0" stroke="#000" stroke-width="1.265" stroke-dasharray="6,4"/>
<rect x="179.0" y="491.0" width="42.0" height="24.0" fill="#fff" stroke="#000" stroke-width="1.2"/>
<rect x="184.0" y="494.0" width="32.0" height="18.0" fill="#fff" stroke="#000" stroke-width="1"/>
<circle cx="200.0" cy="500.0" r="2.0" fill="#fff" stroke="#000" stroke-width="1"/>
<rect x="161.0" y="598.0" width="86.0" height="24.0" fill="#fff" stroke="#000" stroke-width="1.2"/>
<rect x="167.0" y="600.0" width="19.0" height="20.0" fill="#fff" stroke="#000" stroke-width="1"/>
<line x1="207.0" y1="600.0" x2="207.0" y2="622.0" stroke="#000" stroke-width="1.15" stroke-dasharray="3,3"/>
<line x1="232.0" y1="600.0" x2="232.0" y2="622.0" stroke="#000" stroke-width="1.15" stroke-dasharray="3,3"/>
<rect x="283.0" y="490.0" width="15.0" height="23.0" fill="#fff" stroke="#000" stroke-width="1"/>
<rect x="309.0" y="492.0" width="28.0" height="8.0" fill="#fff" stroke="#000" stroke-width="1"/>
<ellipse cx="323" cy="508" rx="6.5" ry="9" fill="#fff" stroke="#000" stroke-width="1.3"/>
<line x1="300.0" y1="557.0" x2="273.0" y2="597.0" stroke="#000" stroke-width="1.4949999999999999" />
<line x1="296.0" y1="553.0" x2="270.0" y2="590.0" stroke="#000" stroke-width="1.15" />
<rect x="296.0" y="553.0" width="9.0" height="13.0" fill="#000"/>
<line x1="252.0" y1="597.0" x2="273.0" y2="597.0" stroke="#000" stroke-width="1.38" />
<rect x="255.0" y="604.0" width="21.0" height="91.0" fill="#fff"/>
<line x1="255.0" y1="604.0" x2="274.4" y2="605.5" stroke="#000" stroke-width="1.35" />
<line x1="255.8" y1="606.6" x2="273.6" y2="608.1" stroke="#000" stroke-width="1.35" />
<line x1="256.6" y1="609.2" x2="276.0" y2="610.7" stroke="#000" stroke-width="1.35" />
<line x1="257.4" y1="611.8" x2="275.2" y2="613.3" stroke="#000" stroke-width="1.35" />
<line x1="255.0" y1="614.4" x2="274.4" y2="615.9" stroke="#000" stroke-width="1.35" />
<line x1="255.8" y1="617.0" x2="273.6" y2="618.5" stroke="#000" stroke-width="1.35" />
<line x1="256.6" y1="619.6" x2="276.0" y2="621.1" stroke="#000" stroke-width="1.35" />
<line x1="257.4" y1="622.2" x2="275.2" y2="623.7" stroke="#000" stroke-width="1.35" />
<line x1="255.0" y1="624.8" x2="274.4" y2="626.3" stroke="#000" stroke-width="1.35" />
<line x1="255.8" y1="627.4" x2="273.6" y2="628.9" stroke="#000" stroke-width="1.35" />
<line x1="256.6" y1="630.0" x2="276.0" y2="631.5" stroke="#000" stroke-width="1.35" />
<line x1="257.4" y1="632.6" x2="275.2" y2="634.1" stroke="#000" stroke-width="1.35" />
<line x1="255.0" y1="635.2" x2="274.4" y2="636.7" stroke="#000" stroke-width="1.35" />
<line x1="255.8" y1="637.8" x2="273.6" y2="639.3" stroke="#000" stroke-width="1.35" />
<line x1="256.6" y1="640.4" x2="276.0" y2="641.9" stroke="#000" stroke-width="1.35" />
<line x1="257.4" y1="643.0" x2="275.2" y2="644.5" stroke="#000" stroke-width="1.35" />
<line x1="255.0" y1="645.6" x2="274.4" y2="647.1" stroke="#000" stroke-width="1.35" />
<line x1="255.8" y1="648.2" x2="273.6" y2="649.7" stroke="#000" stroke-width="1.35" />
<line x1="256.6" y1="650.8" x2="276.0" y2="652.3" stroke="#000" stroke-width="1.35" />
<line x1="257.4" y1="653.4" x2="275.2" y2="654.9" stroke="#000" stroke-width="1.35" />
<line x1="255.0" y1="656.0" x2="274.4" y2="657.5" stroke="#000" stroke-width="1.35" />
<line x1="255.8" y1="658.6" x2="273.6" y2="660.1" stroke="#000" stroke-width="1.35" />
<line x1="256.6" y1="661.2" x2="276.0" y2="662.7" stroke="#000" stroke-width="1.35" />
<line x1="257.4" y1="663.8" x2="275.2" y2="665.3" stroke="#000" stroke-width="1.35" />
<line x1="255.0" y1="666.4" x2="274.4" y2="667.9" stroke="#000" stroke-width="1.35" />
<line x1="255.8" y1="669.0" x2="273.6" y2="670.5" stroke="#000" stroke-width="1.35" />
<line x1="256.6" y1="671.6" x2="276.0" y2="673.1" stroke="#000" stroke-width="1.35" />
<line x1="257.4" y1="674.2" x2="275.2" y2="675.7" stroke="#000" stroke-width="1.35" />
<line x1="255.0" y1="676.8" x2="274.4" y2="678.3" stroke="#000" stroke-width="1.35" />
<line x1="255.8" y1="679.4" x2="273.6" y2="680.9" stroke="#000" stroke-width="1.35" />
<line x1="256.6" y1="682.0" x2="276.0" y2="683.5" stroke="#000" stroke-width="1.35" />
<line x1="257.4" y1="684.6" x2="275.2" y2="686.1" stroke="#000" stroke-width="1.35" />
<line x1="255.0" y1="687.2" x2="274.4" y2="688.7" stroke="#000" stroke-width="1.35" />
<line x1="255.8" y1="689.8" x2="273.6" y2="691.3" stroke="#000" stroke-width="1.35" />
<line x1="256.6" y1="692.4" x2="276.0" y2="693.9" stroke="#000" stroke-width="1.35" />
<line x1="265.5" y1="604.0" x2="265.5" y2="695.0" stroke="#000" stroke-width="1.38" />
<rect x="276.0" y="686.0" width="40.0" height="20.0" fill="#fff"/>
<line x1="276.0" y1="686.0" x2="277.5" y2="704.4" stroke="#000" stroke-width="1.35" />
<line x1="278.6" y1="686.8" x2="280.1" y2="703.6" stroke="#000" stroke-width="1.35" />
<line x1="281.2" y1="687.6" x2="282.7" y2="706.0" stroke="#000" stroke-width="1.35" />
<line x1="283.8" y1="688.4" x2="285.3" y2="705.2" stroke="#000" stroke-width="1.35" />
<line x1="286.4" y1="686.0" x2="287.9" y2="704.4" stroke="#000" stroke-width="1.35" />
<line x1="289.0" y1="686.8" x2="290.5" y2="703.6" stroke="#000" stroke-width="1.35" />
<line x1="291.6" y1="687.6" x2="293.1" y2="706.0" stroke="#000" stroke-width="1.35" />
<line x1="294.2" y1="688.4" x2="295.7" y2="705.2" stroke="#000" stroke-width="1.35" />
<line x1="296.8" y1="686.0" x2="298.3" y2="704.4" stroke="#000" stroke-width="1.35" />
<line x1="299.4" y1="686.8" x2="300.9" y2="703.6" stroke="#000" stroke-width="1.35" />
<line x1="302.0" y1="687.6" x2="303.5" y2="706.0" stroke="#000" stroke-width="1.35" />
<line x1="304.6" y1="688.4" x2="306.1" y2="705.2" stroke="#000" stroke-width="1.35" />
<line x1="307.2" y1="686.0" x2="308.7" y2="704.4" stroke="#000" stroke-width="1.35" />
<line x1="309.8" y1="686.8" x2="311.3" y2="703.6" stroke="#000" stroke-width="1.35" />
<line x1="312.4" y1="687.6" x2="313.9" y2="706.0" stroke="#000" stroke-width="1.35" />
<line x1="315.0" y1="688.4" x2="316.5" y2="705.2" stroke="#000" stroke-width="1.35" />
<line x1="276.0" y1="696.0" x2="316.0" y2="696.0" stroke="#000" stroke-width="1.38" />
<rect x="314.0" y="653.0" width="18.0" height="41.0" fill="#fff"/>
<line x1="314.0" y1="653.0" x2="330.4" y2="654.5" stroke="#000" stroke-width="1.35" />
<line x1="314.8" y1="655.6" x2="329.6" y2="657.1" stroke="#000" stroke-width="1.35" />
<line x1="315.6" y1="658.2" x2="332.0" y2="659.7" stroke="#000" stroke-width="1.35" />
<line x1="316.4" y1="660.8" x2="331.2" y2="662.3" stroke="#000" stroke-width="1.35" />
<line x1="314.0" y1="663.4" x2="330.4" y2="664.9" stroke="#000" stroke-width="1.35" />
<line x1="314.8" y1="666.0" x2="329.6" y2="667.5" stroke="#000" stroke-width="1.35" />
<line x1="315.6" y1="668.6" x2="332.0" y2="670.1" stroke="#000" stroke-width="1.35" />
<line x1="316.4" y1="671.2" x2="331.2" y2="672.7" stroke="#000" stroke-width="1.35" />
<line x1="314.0" y1="673.8" x2="330.4" y2="675.3" stroke="#000" stroke-width="1.35" />
<line x1="314.8" y1="676.4" x2="329.6" y2="677.9" stroke="#000" stroke-width="1.35" />
<line x1="315.6" y1="679.0" x2="332.0" y2="680.5" stroke="#000" stroke-width="1.35" />
<line x1="316.4" y1="681.6" x2="331.2" y2="683.1" stroke="#000" stroke-width="1.35" />
<line x1="314.0" y1="684.2" x2="330.4" y2="685.7" stroke="#000" stroke-width="1.35" />
<line x1="314.8" y1="686.8" x2="329.6" y2="688.3" stroke="#000" stroke-width="1.35" />
<line x1="315.6" y1="689.4" x2="332.0" y2="690.9" stroke="#000" stroke-width="1.35" />
<line x1="316.4" y1="692.0" x2="331.2" y2="693.5" stroke="#000" stroke-width="1.35" />
<line x1="323.0" y1="653.0" x2="323.0" y2="694.0" stroke="#000" stroke-width="1.38" />
<rect x="367.0" y="610.0" width="21.0" height="78.0" fill="#fff"/>
<line x1="367.0" y1="610.0" x2="386.4" y2="611.5" stroke="#000" stroke-width="1.35" />
<line x1="367.8" y1="612.6" x2="385.6" y2="614.1" stroke="#000" stroke-width="1.35" />
<line x1="368.6" y1="615.2" x2="388.0" y2="616.7" stroke="#000" stroke-width="1.35" />
<line x1="369.4" y1="617.8" x2="387.2" y2="619.3" stroke="#000" stroke-width="1.35" />
<line x1="367.0" y1="620.4" x2="386.4" y2="621.9" stroke="#000" stroke-width="1.35" />
<line x1="367.8" y1="623.0" x2="385.6" y2="624.5" stroke="#000" stroke-width="1.35" />
<line x1="368.6" y1="625.6" x2="388.0" y2="627.1" stroke="#000" stroke-width="1.35" />
<line x1="369.4" y1="628.2" x2="387.2" y2="629.7" stroke="#000" stroke-width="1.35" />
<line x1="367.0" y1="630.8" x2="386.4" y2="632.3" stroke="#000" stroke-width="1.35" />
<line x1="367.8" y1="633.4" x2="385.6" y2="634.9" stroke="#000" stroke-width="1.35" />
<line x1="368.6" y1="636.0" x2="388.0" y2="637.5" stroke="#000" stroke-width="1.35" />
<line x1="369.4" y1="638.6" x2="387.2" y2="640.1" stroke="#000" stroke-width="1.35" />
<line x1="367.0" y1="641.2" x2="386.4" y2="642.7" stroke="#000" stroke-width="1.35" />
<line x1="367.8" y1="643.8" x2="385.6" y2="645.3" stroke="#000" stroke-width="1.35" />
<line x1="368.6" y1="646.4" x2="388.0" y2="647.9" stroke="#000" stroke-width="1.35" />
<line x1="369.4" y1="649.0" x2="387.2" y2="650.5" stroke="#000" stroke-width="1.35" />
<line x1="367.0" y1="651.6" x2="386.4" y2="653.1" stroke="#000" stroke-width="1.35" />
<line x1="367.8" y1="654.2" x2="385.6" y2="655.7" stroke="#000" stroke-width="1.35" />
<line x1="368.6" y1="656.8" x2="388.0" y2="658.3" stroke="#000" stroke-width="1.35" />
<line x1="369.4" y1="659.4" x2="387.2" y2="660.9" stroke="#000" stroke-width="1.35" />
<line x1="367.0" y1="662.0" x2="386.4" y2="663.5" stroke="#000" stroke-width="1.35" />
<line x1="367.8" y1="664.6" x2="385.6" y2="666.1" stroke="#000" stroke-width="1.35" />
<line x1="368.6" y1="667.2" x2="388.0" y2="668.7" stroke="#000" stroke-width="1.35" />
<line x1="369.4" y1="669.8" x2="387.2" y2="671.3" stroke="#000" stroke-width="1.35" />
<line x1="367.0" y1="672.4" x2="386.4" y2="673.9" stroke="#000" stroke-width="1.35" />
<line x1="367.8" y1="675.0" x2="385.6" y2="676.5" stroke="#000" stroke-width="1.35" />
<line x1="368.6" y1="677.6" x2="388.0" y2="679.1" stroke="#000" stroke-width="1.35" />
<line x1="369.4" y1="680.2" x2="387.2" y2="681.7" stroke="#000" stroke-width="1.35" />
<line x1="367.0" y1="682.8" x2="386.4" y2="684.3" stroke="#000" stroke-width="1.35" />
<line x1="367.8" y1="685.4" x2="385.6" y2="686.9" stroke="#000" stroke-width="1.35" />
<line x1="377.5" y1="610.0" x2="377.5" y2="688.0" stroke="#000" stroke-width="1.38" />
<rect x="341.0" y="687.0" width="29.0" height="19.0" fill="#fff"/>
<line x1="341.0" y1="687.0" x2="342.5" y2="704.4" stroke="#000" stroke-width="1.35" />
<line x1="343.6" y1="687.8" x2="345.1" y2="703.6" stroke="#000" stroke-width="1.35" />
<line x1="346.2" y1="688.6" x2="347.7" y2="706.0" stroke="#000" stroke-width="1.35" />
<line x1="348.8" y1="689.4" x2="350.3" y2="705.2" stroke="#000" stroke-width="1.35" />
<line x1="351.4" y1="687.0" x2="352.9" y2="704.4" stroke="#000" stroke-width="1.35" />
<line x1="354.0" y1="687.8" x2="355.5" y2="703.6" stroke="#000" stroke-width="1.35" />
<line x1="356.6" y1="688.6" x2="358.1" y2="706.0" stroke="#000" stroke-width="1.35" />
<line x1="359.2" y1="689.4" x2="360.7" y2="705.2" stroke="#000" stroke-width="1.35" />
<line x1="361.8" y1="687.0" x2="363.3" y2="704.4" stroke="#000" stroke-width="1.35" />
<line x1="364.4" y1="687.8" x2="365.9" y2="703.6" stroke="#000" stroke-width="1.35" />
<line x1="367.0" y1="688.6" x2="368.5" y2="706.0" stroke="#000" stroke-width="1.35" />
<line x1="369.6" y1="689.4" x2="371.1" y2="705.2" stroke="#000" stroke-width="1.35" />
<line x1="341.0" y1="696.5" x2="370.0" y2="696.5" stroke="#000" stroke-width="1.38" />
<rect x="347.0" y="582.0" width="39.0" height="21.0" fill="#fff"/>
<line x1="347.0" y1="582.0" x2="348.5" y2="601.4" stroke="#000" stroke-width="1.35" />
<line x1="349.6" y1="582.8" x2="351.1" y2="600.6" stroke="#000" stroke-width="1.35" />
<line x1="352.2" y1="583.6" x2="353.7" y2="603.0" stroke="#000" stroke-width="1.35" />
<line x1="354.8" y1="584.4" x2="356.3" y2="602.2" stroke="#000" stroke-width="1.35" />
<line x1="357.4" y1="582.0" x2="358.9" y2="601.4" stroke="#000" stroke-width="1.35" />
<line x1="360.0" y1="582.8" x2="361.5" y2="600.6" stroke="#000" stroke-width="1.35" />
<line x1="362.6" y1="583.6" x2="364.1" y2="603.0" stroke="#000" stroke-width="1.35" />
<line x1="365.2" y1="584.4" x2="366.7" y2="602.2" stroke="#000" stroke-width="1.35" />
<line x1="367.8" y1="582.0" x2="369.3" y2="601.4" stroke="#000" stroke-width="1.35" />
<line x1="370.4" y1="582.8" x2="371.9" y2="600.6" stroke="#000" stroke-width="1.35" />
<line x1="373.0" y1="583.6" x2="374.5" y2="603.0" stroke="#000" stroke-width="1.35" />
<line x1="375.6" y1="584.4" x2="377.1" y2="602.2" stroke="#000" stroke-width="1.35" />
<line x1="378.2" y1="582.0" x2="379.7" y2="601.4" stroke="#000" stroke-width="1.35" />
<line x1="380.8" y1="582.8" x2="382.3" y2="600.6" stroke="#000" stroke-width="1.35" />
<line x1="383.4" y1="583.6" x2="384.9" y2="603.0" stroke="#000" stroke-width="1.35" />
<line x1="347.0" y1="592.5" x2="386.0" y2="592.5" stroke="#000" stroke-width="1.38" />
<path d="M383,352 L392,360 L385,366 L396,368 L388,376 L399,379 L389,386 L398,391 L386,396 L395,404 L384,405 M392,352 L397,362 M386,380 L381,390 M394,392 L401,398" fill="none" stroke="#000" stroke-width="1.3"/>
<path d="M396,356 L388,363 L398,372 L386,378 L397,386 L389,395 L399,402 L391,410" fill="none" stroke="#000" stroke-width="1.1"/>
<path d="M514,355 L522,350 L519,360 L528,357 L522,366 L532,368 L523,374 L531,380 L520,384 L529,391 L518,396 L526,404 L516,408 M528,352 L532,360 M514,380 L520,378" fill="none" stroke="#000" stroke-width="1.3"/>
<path d="M526,356 L516,366 L527,372 L515,381 L526,388 L517,398 L527,405" fill="none" stroke="#000" stroke-width="1.1"/>
<line x1="533.0" y1="347.0" x2="533.0" y2="411.0" stroke="#000" stroke-width="1.15" />
<ellipse cx="672" cy="652" rx="10" ry="7" fill="#fff" stroke="#000" stroke-width="1.3"/>
<rect x="652.0" y="640.0" width="6.0" height="26.0" fill="#fff" stroke="#000" stroke-width="1.2"/>
<path d="M656,606 Q660,598 668,604 Q676,612 672,622 Q664,628 656,620" fill="none" stroke="#000" stroke-width="1.3"/>
<rect x="651.0" y="677.0" width="30.0" height="35.0" fill="#fff"/>
<line x1="651.0" y1="677.0" x2="681.0" y2="712.0" stroke="#000" stroke-width="1.15" />
<line x1="681.0" y1="677.0" x2="651.0" y2="712.0" stroke="#000" stroke-width="1.15" />
<line x1="682.0" y1="676.0" x2="682.0" y2="715.0" stroke="#000" stroke-width="1.15" />
<line x1="766.0" y1="734.0" x2="770.0" y2="755.0" stroke="#000" stroke-width="1.38" />
<line x1="770.0" y1="734.0" x2="774.0" y2="755.0" stroke="#000" stroke-width="1.38" />
<line x1="725.0" y1="770.0" x2="727.0" y2="790.0" stroke="#000" stroke-width="1.38" />
<line x1="729.0" y1="770.0" x2="731.0" y2="790.0" stroke="#000" stroke-width="1.38" />
<line x1="792.0" y1="772.0" x2="815.0" y2="775.0" stroke="#000" stroke-width="1.38" />
<line x1="790.0" y1="785.0" x2="812.0" y2="788.0" stroke="#000" stroke-width="1.38" />
<polygon points="770.0,700.0 830.0,760.0 818.0,776.0 770.0,730.0" fill="#fff"/>
<line x1="772.0" y1="703.0" x2="763.0" y2="712.0" stroke="#000" stroke-width="1.265" />
<line x1="774.8" y1="705.8" x2="765.8" y2="714.8" stroke="#000" stroke-width="1.265" />
<line x1="777.7" y1="708.7" x2="768.7" y2="717.7" stroke="#000" stroke-width="1.265" />
<line x1="780.5" y1="711.5" x2="771.5" y2="720.5" stroke="#000" stroke-width="1.265" />
<line x1="783.4" y1="714.4" x2="774.4" y2="723.4" stroke="#000" stroke-width="1.265" />
<line x1="786.2" y1="717.2" x2="777.2" y2="726.2" stroke="#000" stroke-width="1.265" />
<line x1="789.1" y1="720.1" x2="780.1" y2="729.1" stroke="#000" stroke-width="1.265" />
<line x1="791.9" y1="722.9" x2="782.9" y2="731.9" stroke="#000" stroke-width="1.265" />
<line x1="794.7" y1="725.7" x2="785.7" y2="734.7" stroke="#000" stroke-width="1.265" />
<line x1="797.6" y1="728.6" x2="788.6" y2="737.6" stroke="#000" stroke-width="1.265" />
<line x1="800.4" y1="731.4" x2="791.4" y2="740.4" stroke="#000" stroke-width="1.265" />
<line x1="803.3" y1="734.3" x2="794.3" y2="743.3" stroke="#000" stroke-width="1.265" />
<line x1="806.1" y1="737.1" x2="797.1" y2="746.1" stroke="#000" stroke-width="1.265" />
<line x1="808.9" y1="739.9" x2="799.9" y2="748.9" stroke="#000" stroke-width="1.265" />
<line x1="811.8" y1="742.8" x2="802.8" y2="751.8" stroke="#000" stroke-width="1.265" />
<line x1="814.6" y1="745.6" x2="805.6" y2="754.6" stroke="#000" stroke-width="1.265" />
<line x1="817.5" y1="748.5" x2="808.5" y2="757.5" stroke="#000" stroke-width="1.265" />
<line x1="820.3" y1="751.3" x2="811.3" y2="760.3" stroke="#000" stroke-width="1.265" />
<line x1="823.2" y1="754.2" x2="814.2" y2="763.2" stroke="#000" stroke-width="1.265" />
<line x1="826.0" y1="757.0" x2="817.0" y2="766.0" stroke="#000" stroke-width="1.265" />
<line x1="771.0" y1="712.0" x2="822.0" y2="766.0" stroke="#000" stroke-width="1.15" />
<g transform="translate(846,722) rotate(-45)"><rect x="-14" y="-12" width="28" height="24" fill="#fff" stroke="#000" stroke-width="1.2"/><rect x="-10" y="-8" width="20" height="16" fill="none" stroke="#000" stroke-width="1"/></g>
<line x1="269.5" y1="486.8" x2="248.6" y2="509.0" stroke="#000" stroke-width="3.2"/>
<line x1="269.5" y1="486.8" x2="248.6" y2="509.0" stroke="#fff" stroke-width="1.0"/>
<line x1="279.4" y1="494.8" x2="267.7" y2="507.0" stroke="#000" stroke-width="3.2"/>
<line x1="279.4" y1="494.8" x2="267.7" y2="507.0" stroke="#fff" stroke-width="1.0"/>
<line x1="300.3" y1="526.8" x2="280.6" y2="547.0" stroke="#000" stroke-width="3.2"/>
<line x1="300.3" y1="526.8" x2="280.6" y2="547.0" stroke="#fff" stroke-width="1.0"/>
<line x1="264.0" y1="566.8" x2="293.0" y2="568.6" stroke="#000" stroke-width="3.2"/>
<line x1="264.0" y1="566.8" x2="293.0" y2="568.6" stroke="#fff" stroke-width="1.0"/>
<line x1="353.2" y1="577.2" x2="375.4" y2="556.3" stroke="#000" stroke-width="3.2"/>
<line x1="353.2" y1="577.2" x2="375.4" y2="556.3" stroke="#fff" stroke-width="1.0"/>
<rect x="323.0" y="566.0" width="16.0" height="37.0" fill="#fff" stroke="#000" stroke-width="1.1"/>
<line x1="321.0" y1="585.0" x2="323.0" y2="585.0" stroke="#000" stroke-width="1.15" />
<rect x="574.0" y="586.0" width="7.0" height="8.0" fill="#fff" stroke="#000" stroke-width="1"/>
<rect x="593.0" y="586.0" width="7.0" height="8.0" fill="#fff" stroke="#000" stroke-width="1"/>
<rect x="574.0" y="652.0" width="7.0" height="7.0" fill="#fff" stroke="#000" stroke-width="1"/>
<rect x="593.0" y="652.0" width="7.0" height="7.0" fill="#fff" stroke="#000" stroke-width="1"/>
<text x="261.0" y="241.0" font-size="17.14" stroke="#000" stroke-width="0.17" textLength="69.0" lengthAdjust="spacingAndGlyphs" font-weight="normal" font-style="normal">SITTING</text>
<text x="268.0" y="251.0" font-size="8.57" stroke="#000" stroke-width="0.10" textLength="55.0" lengthAdjust="spacingAndGlyphs" font-weight="normal" font-style="normal">10' CEILING</text>
<text x="255.0" y="265.0" font-size="11.43" stroke="#000" stroke-width="0.11" textLength="80.0" lengthAdjust="spacingAndGlyphs" font-weight="normal" font-style="normal">10'-0&quot; x 6'-0&quot;</text>
<text x="257.0" y="339.5" font-size="16.43" stroke="#000" stroke-width="0.16" textLength="77.0" lengthAdjust="spacingAndGlyphs" font-weight="normal" font-style="normal">MASTER</text>
<text x="250.0" y="355.0" font-size="17.14" stroke="#000" stroke-width="0.17" textLength="90.0" lengthAdjust="spacingAndGlyphs" font-weight="normal" font-style="normal">BEDROOM</text>
<text x="226.0" y="368.0" font-size="11.43" stroke="#000" stroke-width="0.11" textLength="138.0" lengthAdjust="spacingAndGlyphs" font-weight="normal" font-style="normal">10' BARREL VAULTED CEILING</text>
<text x="250.0" y="384.0" font-size="12.86" stroke="#000" stroke-width="0.13" textLength="89.0" lengthAdjust="spacingAndGlyphs" font-weight="normal" font-style="normal">15'-0&quot; x 16'-6&quot;</text>
<text x="125.0" y="344.0" font-size="17.14" stroke="#000" stroke-width="0.17" textLength="48.0" lengthAdjust="spacingAndGlyphs" font-weight="normal" font-style="normal">PATIO</text>
<text x="111.5" y="360.0" font-size="11.86" stroke="#000" stroke-width="0.12" textLength="79.5" lengthAdjust="spacingAndGlyphs" font-weight="normal" font-style="normal">9'-0&quot; x 21'-2&quot;</text>
<text x="184.0" y="536.0" font-size="17.14" stroke="#000" stroke-width="0.17" textLength="76.0" lengthAdjust="spacingAndGlyphs" font-weight="normal" font-style="normal">MASTER</text>
<text x="199.0" y="551.0" font-size="18.57" stroke="#000" stroke-width="0.19" textLength="45.0" lengthAdjust="spacingAndGlyphs" font-weight="normal" font-style="normal">BATH</text>
<text x="196.0" y="562.5" font-size="9.29" stroke="#000" stroke-width="0.10" textLength="51.5" lengthAdjust="spacingAndGlyphs" font-weight="normal" font-style="normal">10' CEILING</text>
<text x="349.0" y="532.5" font-size="9.29" stroke="#000" stroke-width="0.10" textLength="52.7" lengthAdjust="spacingAndGlyphs" font-weight="normal" font-style="normal">18' CEILING</text>
<text x="295.6" y="631.4" font-size="9.86" stroke="#000" stroke-width="0.10" textLength="54.1" lengthAdjust="spacingAndGlyphs" font-weight="normal" font-style="normal">10' CEILING</text>
<text x="287.0" y="674.5" font-size="10.71" stroke="#000" stroke-width="0.11" textLength="16.0" lengthAdjust="spacingAndGlyphs" font-weight="normal" font-style="normal">HIS</text>
<text x="341.0" y="674.5" font-size="10.71" stroke="#000" stroke-width="0.11" textLength="27.0" lengthAdjust="spacingAndGlyphs" font-weight="normal" font-style="normal">HERS</text>
<text x="187.0" y="755.4" font-size="18.43" stroke="#000" stroke-width="0.18" textLength="107.0" lengthAdjust="spacingAndGlyphs" font-weight="normal" font-style="normal">COURTYARD</text>
<text x="196.0" y="770.0" font-size="12.86" stroke="#000" stroke-width="0.13" textLength="89.0" lengthAdjust="spacingAndGlyphs" font-weight="normal" font-style="normal">25'-0&quot; x 21'-4&quot;</text>
<text x="432.5" y="520.5" font-size="16.43" stroke="#000" stroke-width="0.16" textLength="58.5" lengthAdjust="spacingAndGlyphs" font-weight="normal" font-style="normal">FOYER</text>
<text x="425.5" y="531.0" font-size="10.00" stroke="#000" stroke-width="0.10" textLength="70.1" lengthAdjust="spacingAndGlyphs" font-weight="normal" font-style="normal">21'-9&quot; CEILING</text>
<text x="418.5" y="544.0" font-size="13.43" stroke="#000" stroke-width="0.13" textLength="87.5" lengthAdjust="spacingAndGlyphs" font-weight="normal" font-style="normal">10'-6&quot; x 11'-5&quot;</text>
<text x="419.7" y="656.0" font-size="18.57" stroke="#000" stroke-width="0.19" textLength="82.9" lengthAdjust="spacingAndGlyphs" font-weight="normal" font-style="normal">COVERED</text>
<text x="432.5" y="671.0" font-size="18.57" stroke="#000" stroke-width="0.19" textLength="57.2" lengthAdjust="spacingAndGlyphs" font-weight="normal" font-style="normal">ENTRY</text>
<text x="418.5" y="687.5" font-size="13.57" stroke="#000" stroke-width="0.14" textLength="87.5" lengthAdjust="spacingAndGlyphs" font-weight="normal" font-style="normal">10'-0&quot; x 21'-6&quot;</text>
<text x="545.5" y="579.5" font-size="9.71" stroke="#000" stroke-width="0.10" textLength="12.5" lengthAdjust="spacingAndGlyphs" font-weight="normal" font-style="normal">UP</text>
<text x="603.8" y="580.3" font-size="9.71" stroke="#000" stroke-width="0.10" textLength="28.8" lengthAdjust="spacingAndGlyphs" font-weight="normal" font-style="normal">DOWN</text>
<text x="659.7" y="613.3" font-size="16.86" stroke="#000" stroke-width="0.17" textLength="49.9" lengthAdjust="spacingAndGlyphs" font-weight="normal" font-style="normal">PDR 1</text>
<text x="662.0" y="623.5" font-size="9.71" stroke="#000" stroke-width="0.10" textLength="49.3" lengthAdjust="spacingAndGlyphs" font-weight="normal" font-style="normal">9' CEILING</text>
<text x="660.0" y="700.5" font-size="7.29" stroke="#000" stroke-width="0.10" textLength="30.0" lengthAdjust="spacingAndGlyphs" font-weight="normal" font-style="normal">PET</text>
<text x="654.6" y="710.6" font-size="8.43" stroke="#000" stroke-width="0.10" textLength="35.4" lengthAdjust="spacingAndGlyphs" font-weight="normal" font-style="normal">CENTER</text>
<text x="598.0" y="373.2" font-size="17.43" stroke="#000" stroke-width="0.17" textLength="117.4" lengthAdjust="spacingAndGlyphs" font-weight="normal" font-style="normal">GREAT ROOM</text>
<text x="587.3" y="386.5" font-size="10.29" stroke="#000" stroke-width="0.10" textLength="137.7" lengthAdjust="spacingAndGlyphs" font-weight="normal" font-style="normal">21' BARREL VAULTED CEILING</text>
<text x="614.0" y="402.0" font-size="11.71" stroke="#000" stroke-width="0.12" textLength="89.3" lengthAdjust="spacingAndGlyphs" font-weight="normal" font-style="normal">20'-6&quot; x 21'-4&quot;</text>
<text x="824.6" y="404.4" font-size="16.29" stroke="#000" stroke-width="0.16" textLength="59.4" lengthAdjust="spacingAndGlyphs" font-weight="normal" font-style="normal">DINING</text>
<text x="819.5" y="417.0" font-size="10.71" stroke="#000" stroke-width="0.11" textLength="68.5" lengthAdjust="spacingAndGlyphs" font-weight="normal" font-style="normal">10'-9&quot; CEILING</text>
<text x="813.0" y="432.3" font-size="12.71" stroke="#000" stroke-width="0.13" textLength="89.0" lengthAdjust="spacingAndGlyphs" font-weight="normal" font-style="normal">12'-5&quot; x 16'-2&quot;</text>
<text x="988.3" y="380.3" font-size="18.14" stroke="#000" stroke-width="0.18" textLength="48.3" lengthAdjust="spacingAndGlyphs" font-weight="normal" font-style="normal">NOOK</text>
<text x="979.4" y="391.7" font-size="11.00" stroke="#000" stroke-width="0.11" textLength="67.3" lengthAdjust="spacingAndGlyphs" font-weight="normal" font-style="normal">10'-9&quot; CEILING</text>
<text x="969.3" y="405.7" font-size="14.57" stroke="#000" stroke-width="0.15" textLength="88.7" lengthAdjust="spacingAndGlyphs" font-weight="normal" font-style="normal">13'-6&quot; x 11'-6&quot;</text>
<text x="940.0" y="499.6" font-size="18.00" stroke="#000" stroke-width="0.18" textLength="73.7" lengthAdjust="spacingAndGlyphs" font-weight="normal" font-style="normal">KITCHEN</text>
<text x="942.6" y="511.0" font-size="10.86" stroke="#000" stroke-width="0.11" textLength="68.4" lengthAdjust="spacingAndGlyphs" font-weight="normal" font-style="normal">10'-9&quot; CEILING</text>
<text x="935.0" y="525.0" font-size="12.86" stroke="#000" stroke-width="0.13" textLength="87.6" lengthAdjust="spacingAndGlyphs" font-weight="normal" font-style="normal">16'-0&quot; x 19'-0&quot;</text>
<text x="1002.8" y="239.4" font-size="18.71" stroke="#000" stroke-width="0.19" textLength="149.1" lengthAdjust="spacingAndGlyphs" font-weight="normal" font-style="normal">COVERED PORCH</text>
<text x="1034.2" y="255.0" font-size="14.86" stroke="#000" stroke-width="0.15" textLength="86.3" lengthAdjust="spacingAndGlyphs" font-weight="normal" font-style="normal">10'-0&quot; x 25'-6&quot;</text>
<text x="799.3" y="560.8" font-size="9.14" stroke="#000" stroke-width="0.10" textLength="44.5" lengthAdjust="spacingAndGlyphs" font-weight="normal" font-style="normal">BUTLER'S</text>
<text x="803.0" y="572.2" font-size="10.86" stroke="#000" stroke-width="0.11" textLength="37.0" lengthAdjust="spacingAndGlyphs" font-weight="normal" font-style="normal">PANTRY</text>
<text x="804.4" y="610.3" font-size="9.00" stroke="#000" stroke-width="0.10" textLength="36.8" lengthAdjust="spacingAndGlyphs" font-weight="normal" font-style="normal">PANTRY</text>
<text x="881.9" y="612.8" font-size="9.00" stroke="#000" stroke-width="0.10" textLength="46.9" lengthAdjust="spacingAndGlyphs" font-weight="normal" font-style="normal">WARMING</text>
<text x="885.7" y="625.5" font-size="10.71" stroke="#000" stroke-width="0.11" textLength="41.9" lengthAdjust="spacingAndGlyphs" font-weight="normal" font-style="normal">DRAWER</text>
<text x="881.9" y="653.4" font-size="9.14" stroke="#000" stroke-width="0.10" textLength="38.1" lengthAdjust="spacingAndGlyphs" font-weight="normal" font-style="normal">DOUBLE</text>
<text x="884.4" y="664.9" font-size="9.14" stroke="#000" stroke-width="0.10" textLength="33.0" lengthAdjust="spacingAndGlyphs" font-weight="normal" font-style="normal">OVENS</text>
<text x="757.0" y="666.1" font-size="18.14" stroke="#000" stroke-width="0.18" textLength="84.2" lengthAdjust="spacingAndGlyphs" font-weight="normal" font-style="normal">LAUNDRY</text>
<text x="774.0" y="675.0" font-size="9.00" stroke="#000" stroke-width="0.10" textLength="48.2" lengthAdjust="spacingAndGlyphs" font-weight="normal" font-style="normal">9' CEILING</text>
<text x="709.9" y="735.3" font-size="19.29" stroke="#000" stroke-width="0.19" textLength="39.4" lengthAdjust="spacingAndGlyphs" font-weight="normal" font-style="normal">MUD</text>
<text x="703.0" y="750.0" font-size="17.86" stroke="#000" stroke-width="0.18" textLength="53.0" lengthAdjust="spacingAndGlyphs" font-weight="normal" font-style="normal">ROOM</text>
<text x="706.5" y="760.0" font-size="10.00" stroke="#000" stroke-width="0.10" textLength="47.3" lengthAdjust="spacingAndGlyphs" font-weight="normal" font-style="normal">9' CEILING</text>
<text x="866.6" y="743.5" font-size="10.71" stroke="#000" stroke-width="0.11" textLength="24.0" lengthAdjust="spacingAndGlyphs" font-weight="normal" font-style="normal">STEP</text>
<text x="863.0" y="754.6" font-size="10.86" stroke="#000" stroke-width="0.11" textLength="29.5" lengthAdjust="spacingAndGlyphs" font-weight="normal" font-style="normal">DOWN</text>
<text x="1080.8" y="804.5" font-size="18.57" stroke="#000" stroke-width="0.19" textLength="77.6" lengthAdjust="spacingAndGlyphs" font-weight="normal" font-style="normal">GARAGE</text>
<text x="1077.0" y="819.2" font-size="13.14" stroke="#000" stroke-width="0.13" textLength="87.0" lengthAdjust="spacingAndGlyphs" font-weight="normal" font-style="normal">11'-0&quot; x 16'-0&quot;</text>
<text x="881.4" y="902.3" font-size="18.43" stroke="#000" stroke-width="0.18" textLength="77.6" lengthAdjust="spacingAndGlyphs" font-weight="normal" font-style="normal">GARAGE</text>
<text x="877.7" y="919.0" font-size="13.29" stroke="#000" stroke-width="0.13" textLength="88.6" lengthAdjust="spacingAndGlyphs" font-weight="normal" font-style="normal">23'-0&quot; x 30'-6&quot;</text>
<text x="853.0" y="642.0" font-size="10.00" stroke="#000" stroke-width="0.10" textLength="8.0" lengthAdjust="spacingAndGlyphs" font-weight="normal" font-style="normal">D</text>
<text x="852.0" y="674.0" font-size="10.00" stroke="#000" stroke-width="0.10" textLength="10.0" lengthAdjust="spacingAndGlyphs" font-weight="normal" font-style="normal">W</text>
<text x="974.0" y="557.0" font-size="11.43" stroke="#000" stroke-width="0.11" textLength="18.0" lengthAdjust="spacingAndGlyphs" font-weight="normal" font-style="normal">DW</text>
<text x="1052.0" y="553.0" font-size="11.43" stroke="#000" stroke-width="0.11" textLength="18.0" lengthAdjust="spacingAndGlyphs" font-weight="normal" font-style="normal">DW</text>
<text x="1054.0" y="621.0" font-size="10.00" stroke="#000" stroke-width="0.10" textLength="14.0" lengthAdjust="spacingAndGlyphs" font-weight="normal" font-style="normal">TC</text>
<text x="1051.0" y="659.0" font-size="11.43" stroke="#000" stroke-width="0.11" textLength="20.0" lengthAdjust="spacingAndGlyphs" font-weight="normal" font-style="normal">REF</text>
<text transform="translate(295.5,512) rotate(-90)" font-size="9.5" textLength="21" lengthAdjust="spacingAndGlyphs">LINEN</text>
</svg></body></html>
